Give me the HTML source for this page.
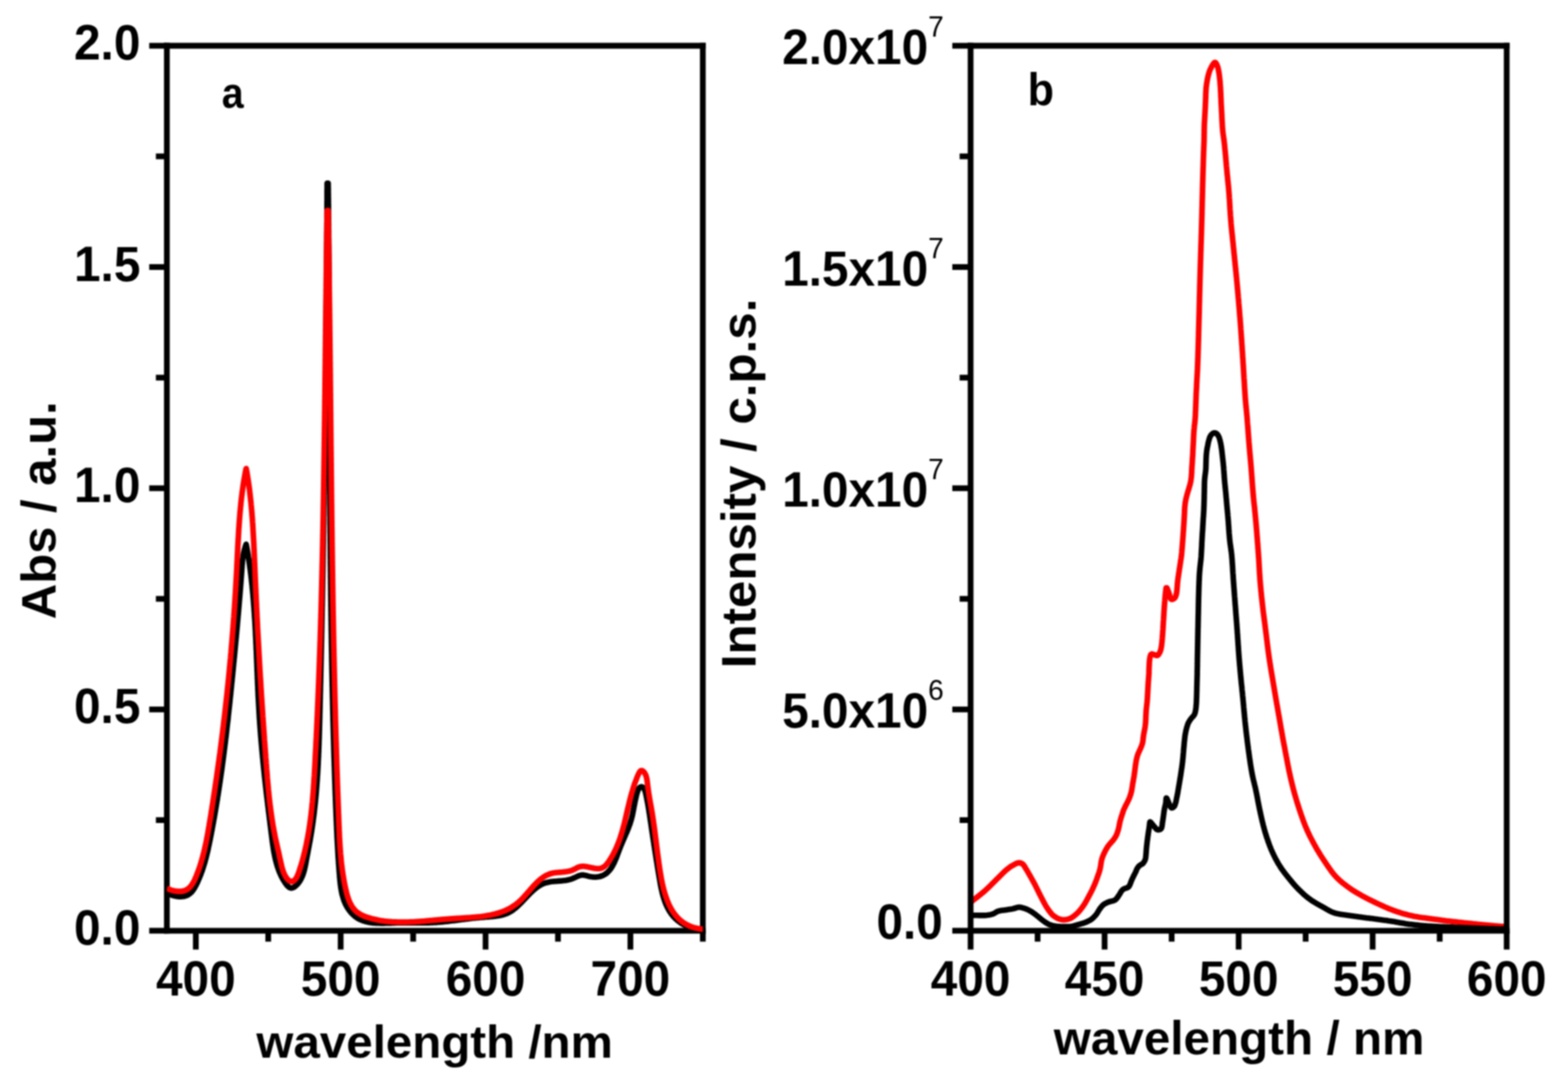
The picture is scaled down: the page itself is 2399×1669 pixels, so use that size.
<!DOCTYPE html>
<html lang="en"><head><meta charset="utf-8"><title>Absorption and emission spectra</title>
<style>
html,body{margin:0;padding:0;background:#fff;}
body{width:2399px;height:1669px;overflow:hidden;}
svg{display:block;filter:blur(1.0px);}
text{font-family:"Liberation Sans",sans-serif;font-weight:bold;fill:#000;}
.sup{font-weight:normal;}
.ax{stroke:#000;fill:none;stroke-linecap:butt;}
.cv{fill:none;stroke-linejoin:round;stroke-linecap:butt;}
</style></head><body>
<svg width="2399" height="1669" viewBox="0 0 2399 1669">
<rect x="0" y="0" width="2399" height="1669" fill="#fff"/>
<g id="panel-a">
<g class="ax" stroke-width="8.8">
<path d="M255.3,65.6 V1428.2"/>
<path d="M1075.3,65.6 V1428.2"/>
<path d="M250.9,70.0 H1079.7"/>
<path d="M250.9,1423.8 H1079.7"/>
<path d="M228.3,1423.8 H255.3"/>
<path d="M238.5,1254.6 H255.3"/>
<path d="M228.3,1085.3 H255.3"/>
<path d="M238.5,916.1 H255.3"/>
<path d="M228.3,746.9 H255.3"/>
<path d="M238.5,577.7 H255.3"/>
<path d="M228.3,408.5 H255.3"/>
<path d="M238.5,239.2 H255.3"/>
<path d="M228.3,70.0 H255.3"/>
<path d="M299.6,1423.8 V1452.6"/>
<path d="M410.4,1423.8 V1440.5"/>
<path d="M521.2,1423.8 V1452.6"/>
<path d="M632.1,1423.8 V1440.5"/>
<path d="M742.9,1423.8 V1452.6"/>
<path d="M853.7,1423.8 V1440.5"/>
<path d="M964.5,1423.8 V1452.6"/>
<path d="M1075.3,1423.8 V1440.5"/>
</g>
<clipPath id="clipA"><rect x="255.3" y="70.0" width="820.0" height="1356.3"/></clipPath>
<g clip-path="url(#clipA)">
<path class="cv" d="M255.3,1365.8 L256.8,1366.7 L258.4,1367.5 L260.1,1368.3 L261.8,1369.0 L263.5,1369.6 L265.2,1370.1 L266.9,1370.5 L268.7,1370.9 L270.5,1371.2 L272.3,1371.5 L274.1,1371.6 L275.9,1371.6 L277.7,1371.6 L279.5,1371.4 L281.3,1371.2 L283.1,1370.8 L284.8,1370.2 L286.5,1369.6 L288.1,1368.7 L289.6,1367.7 L291.0,1366.6 L292.3,1365.4 L293.6,1364.1 L294.7,1362.7 L295.8,1361.2 L296.8,1359.7 L297.7,1358.2 L298.6,1356.6 L299.5,1355.0 L300.3,1353.4 L301.1,1351.8 L301.9,1350.1 L302.7,1348.5 L303.4,1346.9 L304.1,1345.2 L304.8,1343.5 L305.5,1341.9 L306.2,1340.2 L306.9,1338.5 L307.5,1336.8 L308.1,1335.1 L308.8,1333.4 L309.4,1331.7 L309.9,1330.0 L310.5,1328.3 L311.1,1326.6 L311.6,1324.9 L312.1,1323.1 L312.7,1321.4 L313.2,1319.7 L313.7,1317.9 L314.1,1316.2 L314.6,1314.4 L315.1,1312.7 L315.5,1310.9 L316.0,1309.2 L316.4,1307.4 L316.8,1305.7 L317.3,1303.9 L317.7,1302.1 L318.1,1300.4 L318.5,1298.6 L318.8,1296.9 L319.2,1295.1 L319.6,1293.3 L320.0,1291.5 L320.3,1289.8 L320.7,1288.0 L321.1,1286.2 L321.4,1284.5 L321.8,1282.7 L322.1,1280.9 L322.5,1279.1 L322.8,1277.4 L323.2,1275.6 L323.5,1273.8 L323.8,1272.0 L324.2,1270.3 L324.5,1268.5 L324.8,1266.7 L325.2,1264.9 L325.5,1263.1 L325.8,1261.4 L326.2,1259.6 L326.5,1257.8 L326.8,1256.0 L327.1,1254.3 L327.4,1252.5 L327.8,1250.7 L328.1,1248.9 L328.4,1247.1 L328.7,1245.4 L329.0,1243.6 L329.3,1241.8 L329.6,1240.0 L329.9,1238.2 L330.2,1236.4 L330.5,1234.7 L330.8,1232.9 L331.1,1231.1 L331.4,1229.3 L331.7,1227.5 L332.0,1225.7 L332.3,1224.0 L332.6,1222.2 L332.8,1220.4 L333.1,1218.6 L333.4,1216.8 L333.7,1215.0 L334.0,1213.2 L334.2,1211.4 L334.5,1209.7 L334.8,1207.9 L335.1,1206.1 L335.3,1204.3 L335.6,1202.5 L335.9,1200.7 L336.1,1198.9 L336.4,1197.1 L336.7,1195.4 L336.9,1193.6 L337.2,1191.8 L337.4,1190.0 L337.7,1188.2 L338.0,1186.4 L338.2,1184.6 L338.5,1182.8 L338.7,1181.0 L339.0,1179.2 L339.2,1177.5 L339.5,1175.7 L339.7,1173.9 L340.0,1172.1 L340.2,1170.3 L340.4,1168.5 L340.7,1166.7 L340.9,1164.9 L341.2,1163.1 L341.4,1161.3 L341.6,1159.5 L341.9,1157.7 L342.1,1156.0 L342.3,1154.2 L342.6,1152.4 L342.8,1150.6 L343.0,1148.8 L343.2,1147.0 L343.5,1145.2 L343.7,1143.4 L343.9,1141.6 L344.1,1139.8 L344.4,1138.0 L344.6,1136.2 L344.8,1134.4 L345.0,1132.6 L345.2,1130.8 L345.4,1129.0 L345.7,1127.2 L345.9,1125.4 L346.1,1123.6 L346.3,1121.9 L346.5,1120.1 L346.7,1118.3 L346.9,1116.5 L347.1,1114.7 L347.3,1112.9 L347.5,1111.1 L347.7,1109.3 L347.9,1107.5 L348.1,1105.7 L348.4,1103.9 L348.6,1102.1 L348.8,1100.3 L349.0,1098.5 L349.1,1096.7 L349.3,1094.9 L349.5,1093.1 L349.7,1091.3 L349.9,1089.5 L350.1,1087.7 L350.3,1085.9 L350.5,1084.1 L350.7,1082.3 L350.9,1080.5 L351.1,1078.7 L351.3,1076.9 L351.5,1075.1 L351.7,1073.3 L351.8,1071.5 L352.0,1069.7 L352.2,1067.9 L352.4,1066.1 L352.6,1064.3 L352.8,1062.5 L353.0,1060.7 L353.1,1058.9 L353.3,1057.1 L353.5,1055.3 L353.7,1053.5 L353.9,1051.7 L354.1,1049.9 L354.2,1048.1 L354.4,1046.3 L354.6,1044.6 L354.8,1042.8 L355.0,1041.0 L355.1,1039.2 L355.3,1037.4 L355.5,1035.6 L355.7,1033.8 L355.9,1032.0 L356.0,1030.2 L356.2,1028.4 L356.4,1026.6 L356.6,1024.8 L356.7,1023.0 L356.9,1021.2 L357.1,1019.4 L357.3,1017.6 L357.4,1015.8 L357.6,1014.0 L357.8,1012.2 L358.0,1010.4 L358.1,1008.6 L358.3,1006.8 L358.5,1005.0 L358.7,1003.2 L358.8,1001.4 L359.0,999.6 L359.2,997.8 L359.3,996.0 L359.5,994.2 L359.7,992.4 L359.9,990.6 L360.0,988.8 L360.2,987.0 L360.4,985.2 L360.5,983.4 L360.7,981.6 L360.9,979.8 L361.0,978.0 L361.2,976.2 L361.4,974.4 L361.5,972.6 L361.7,970.8 L361.9,969.0 L362.0,967.2 L362.2,965.4 L362.4,963.6 L362.5,961.8 L362.7,960.0 L362.9,958.2 L363.0,956.4 L363.2,954.6 L363.3,952.8 L363.5,950.9 L363.7,949.1 L363.8,947.3 L364.0,945.5 L364.1,943.7 L364.3,941.9 L364.5,940.1 L364.6,938.3 L364.8,936.5 L364.9,934.7 L365.1,932.9 L365.2,931.1 L365.4,929.3 L365.5,927.5 L365.7,925.7 L365.8,923.9 L366.0,922.1 L366.1,920.3 L366.3,918.5 L366.4,916.7 L366.6,914.9 L366.7,913.1 L366.9,911.3 L367.0,909.5 L367.2,907.7 L367.3,905.9 L367.5,904.1 L367.6,902.3 L367.8,900.5 L367.9,898.7 L368.0,896.9 L368.2,895.1 L368.3,893.3 L368.5,891.5 L368.6,889.7 L368.7,887.9 L368.9,886.1 L369.0,884.3 L369.1,882.5 L369.3,880.7 L369.4,878.9 L369.5,877.1 L369.7,875.3 L369.8,873.5 L369.9,871.7 L370.0,869.8 L370.2,868.0 L370.3,866.2 L370.4,864.4 L370.6,862.6 L370.8,860.8 L370.9,859.0 L371.1,857.2 L371.3,855.4 L371.6,853.6 L371.8,851.9 L372.1,850.1 L372.4,848.3 L372.7,846.5 L373.1,844.7 L373.5,843.0 L373.9,841.2 L374.4,839.5 L374.9,837.7 L375.4,836.0 L376.0,834.3 L376.6,832.6 L377.0,834.4 L377.3,836.1 L377.6,837.9 L378.0,839.7 L378.3,841.5 L378.6,843.2 L378.9,845.0 L379.2,846.8 L379.5,848.6 L379.8,850.4 L380.0,852.1 L380.3,853.9 L380.6,855.7 L380.9,857.5 L381.1,859.3 L381.4,861.1 L381.6,862.8 L381.9,864.6 L382.1,866.4 L382.4,868.2 L382.6,870.0 L382.9,871.8 L383.1,873.6 L383.3,875.3 L383.5,877.1 L383.8,878.9 L384.0,880.7 L384.2,882.5 L384.4,884.3 L384.6,886.1 L384.8,887.9 L385.0,889.7 L385.2,891.5 L385.4,893.3 L385.6,895.1 L385.8,896.8 L385.9,898.6 L386.1,900.4 L386.3,902.2 L386.5,904.0 L386.6,905.8 L386.8,907.6 L387.0,909.4 L387.1,911.2 L387.3,913.0 L387.4,914.8 L387.6,916.6 L387.7,918.4 L387.9,920.2 L388.0,922.0 L388.1,923.8 L388.3,925.6 L388.4,927.4 L388.6,929.2 L388.7,931.0 L388.8,932.8 L388.9,934.6 L389.1,936.4 L389.2,938.2 L389.3,940.0 L389.4,941.8 L389.5,943.6 L389.6,945.4 L389.8,947.2 L389.9,949.0 L390.0,950.8 L390.1,952.6 L390.2,954.4 L390.3,956.2 L390.4,958.0 L390.5,959.8 L390.6,961.6 L390.7,963.4 L390.8,965.2 L390.9,967.0 L390.9,968.8 L391.0,970.6 L391.1,972.4 L391.2,974.2 L391.3,976.0 L391.4,977.8 L391.5,979.6 L391.5,981.4 L391.6,983.2 L391.7,985.0 L391.8,986.8 L391.9,988.6 L391.9,990.4 L392.0,992.2 L392.1,994.0 L392.2,995.8 L392.3,997.6 L392.3,999.4 L392.4,1001.2 L392.5,1003.0 L392.5,1004.8 L392.6,1006.6 L392.7,1008.4 L392.8,1010.2 L392.8,1012.0 L392.9,1013.8 L393.0,1015.6 L393.1,1017.4 L393.1,1019.2 L393.2,1021.0 L393.3,1022.8 L393.3,1024.6 L393.4,1026.4 L393.5,1028.2 L393.6,1030.0 L393.6,1031.8 L393.7,1033.6 L393.8,1035.4 L393.8,1037.2 L393.9,1039.0 L394.0,1040.8 L394.1,1042.6 L394.1,1044.4 L394.2,1046.2 L394.3,1048.0 L394.4,1049.8 L394.5,1051.6 L394.5,1053.4 L394.6,1055.2 L394.7,1057.0 L394.8,1058.8 L394.9,1060.6 L394.9,1062.4 L395.0,1064.2 L395.1,1066.0 L395.2,1067.8 L395.3,1069.6 L395.4,1071.4 L395.5,1073.2 L395.6,1075.0 L395.7,1076.8 L395.8,1078.6 L395.9,1080.4 L396.0,1082.2 L396.1,1084.0 L396.2,1085.8 L396.3,1087.6 L396.4,1089.4 L396.5,1091.2 L396.6,1093.0 L396.7,1094.8 L396.8,1096.6 L396.9,1098.4 L397.0,1100.2 L397.2,1102.0 L397.3,1103.8 L397.4,1105.6 L397.5,1107.4 L397.7,1109.2 L397.8,1111.0 L397.9,1112.8 L398.1,1114.6 L398.2,1116.4 L398.3,1118.2 L398.5,1120.0 L398.6,1121.8 L398.7,1123.6 L398.9,1125.4 L399.0,1127.2 L399.2,1129.0 L399.3,1130.8 L399.5,1132.6 L399.6,1134.4 L399.8,1136.2 L399.9,1138.0 L400.1,1139.8 L400.3,1141.6 L400.4,1143.4 L400.6,1145.2 L400.7,1147.0 L400.9,1148.8 L401.1,1150.6 L401.2,1152.4 L401.4,1154.1 L401.6,1155.9 L401.7,1157.7 L401.9,1159.5 L402.1,1161.3 L402.3,1163.1 L402.4,1164.9 L402.6,1166.7 L402.8,1168.5 L403.0,1170.3 L403.1,1172.1 L403.3,1173.9 L403.5,1175.7 L403.7,1177.5 L403.9,1179.3 L404.1,1181.1 L404.3,1182.9 L404.4,1184.6 L404.6,1186.4 L404.8,1188.2 L405.0,1190.0 L405.2,1191.8 L405.4,1193.6 L405.6,1195.4 L405.8,1197.2 L406.0,1199.0 L406.2,1200.8 L406.4,1202.6 L406.6,1204.4 L406.8,1206.1 L407.0,1207.9 L407.2,1209.7 L407.4,1211.5 L407.6,1213.3 L407.8,1215.1 L408.0,1216.9 L408.2,1218.7 L408.5,1220.5 L408.7,1222.3 L408.9,1224.1 L409.1,1225.9 L409.3,1227.6 L409.5,1229.4 L409.7,1231.2 L409.9,1233.0 L410.2,1234.8 L410.4,1236.6 L410.6,1238.4 L410.8,1240.2 L411.0,1242.0 L411.2,1243.8 L411.5,1245.5 L411.7,1247.3 L411.9,1249.1 L412.1,1250.9 L412.3,1252.7 L412.6,1254.5 L412.8,1256.3 L413.0,1258.1 L413.2,1259.9 L413.4,1261.6 L413.7,1263.4 L413.9,1265.2 L414.1,1267.0 L414.3,1268.8 L414.6,1270.6 L414.8,1272.4 L415.0,1274.2 L415.2,1276.0 L415.5,1277.7 L415.7,1279.5 L415.9,1281.3 L416.1,1283.1 L416.4,1284.9 L416.6,1286.7 L416.8,1288.5 L417.1,1290.3 L417.3,1292.0 L417.6,1293.8 L417.9,1295.6 L418.1,1297.4 L418.4,1299.2 L418.7,1301.0 L419.0,1302.7 L419.3,1304.5 L419.7,1306.3 L420.0,1308.0 L420.4,1309.8 L420.7,1311.6 L421.1,1313.3 L421.5,1315.1 L422.0,1316.8 L422.4,1318.6 L422.9,1320.3 L423.4,1322.1 L423.9,1323.8 L424.4,1325.5 L425.0,1327.2 L425.6,1328.9 L426.2,1330.6 L426.8,1332.3 L427.5,1334.0 L428.2,1335.7 L428.9,1337.3 L429.7,1338.9 L430.4,1340.6 L431.3,1342.2 L432.1,1343.8 L433.0,1345.3 L433.9,1346.9 L434.9,1348.4 L435.8,1349.9 L436.9,1351.4 L437.9,1352.9 L439.0,1354.3 L440.2,1355.6 L441.6,1356.8 L443.1,1357.8 L444.8,1358.4 L446.6,1358.4 L448.3,1357.9 L449.9,1357.1 L451.4,1356.1 L452.8,1354.9 L454.1,1353.7 L455.3,1352.4 L456.5,1351.0 L457.6,1349.5 L458.6,1348.1 L459.5,1346.5 L460.4,1345.0 L461.2,1343.3 L462.0,1341.7 L462.7,1340.0 L463.3,1338.4 L463.9,1336.7 L464.5,1334.9 L465.0,1333.2 L465.5,1331.5 L465.9,1329.7 L466.3,1328.0 L466.7,1326.2 L467.1,1324.4 L467.4,1322.7 L467.8,1320.9 L468.1,1319.1 L468.4,1317.4 L468.7,1315.6 L469.1,1313.8 L469.4,1312.0 L469.7,1310.3 L470.1,1308.5 L470.4,1306.7 L470.8,1305.0 L471.1,1303.2 L471.4,1301.4 L471.8,1299.6 L472.1,1297.9 L472.4,1296.1 L472.8,1294.3 L473.1,1292.6 L473.4,1290.8 L473.7,1289.0 L474.1,1287.2 L474.4,1285.5 L474.7,1283.7 L475.0,1281.9 L475.3,1280.1 L475.6,1278.4 L475.9,1276.6 L476.2,1274.8 L476.5,1273.0 L476.8,1271.2 L477.0,1269.5 L477.3,1267.7 L477.6,1265.9 L477.9,1264.1 L478.1,1262.3 L478.4,1260.5 L478.6,1258.8 L478.9,1257.0 L479.1,1255.2 L479.3,1253.4 L479.6,1251.6 L479.8,1249.8 L480.0,1248.0 L480.3,1246.2 L480.5,1244.5 L480.7,1242.7 L480.9,1240.9 L481.1,1239.1 L481.3,1237.3 L481.5,1235.5 L481.7,1233.7 L481.9,1231.9 L482.1,1230.1 L482.3,1228.3 L482.5,1226.5 L482.6,1224.7 L482.8,1222.9 L483.0,1221.2 L483.1,1219.4 L483.3,1217.6 L483.5,1215.8 L483.6,1214.0 L483.8,1212.2 L483.9,1210.4 L484.1,1208.6 L484.2,1206.8 L484.4,1205.0 L484.5,1203.2 L484.6,1201.4 L484.8,1199.6 L484.9,1197.8 L485.0,1196.0 L485.2,1194.2 L485.3,1192.4 L485.4,1190.6 L485.5,1188.8 L485.6,1187.0 L485.8,1185.2 L485.9,1183.4 L486.0,1181.6 L486.1,1179.8 L486.2,1178.0 L486.3,1176.2 L486.4,1174.4 L486.5,1172.6 L486.6,1170.8 L486.7,1169.0 L486.8,1167.2 L486.8,1165.4 L486.9,1163.6 L487.0,1161.8 L487.1,1160.0 L487.2,1158.2 L487.3,1156.4 L487.3,1154.6 L487.4,1152.8 L487.5,1151.0 L487.6,1149.2 L487.6,1147.4 L487.7,1145.6 L487.8,1143.8 L487.8,1142.0 L487.9,1140.2 L488.0,1138.4 L488.0,1136.6 L488.1,1134.8 L488.1,1133.0 L488.2,1131.2 L488.3,1129.4 L488.3,1127.6 L488.4,1125.8 L488.4,1124.0 L488.5,1122.2 L488.5,1120.4 L488.6,1118.6 L488.6,1116.8 L488.7,1115.0 L488.7,1113.1 L488.8,1111.3 L488.8,1109.5 L488.9,1107.7 L488.9,1105.9 L489.0,1104.1 L489.0,1102.3 L489.1,1100.5 L489.1,1098.7 L489.2,1096.9 L489.2,1095.1 L489.2,1093.3 L489.3,1091.5 L489.3,1089.7 L489.4,1087.9 L489.4,1086.1 L489.5,1084.3 L489.5,1082.5 L489.6,1080.7 L489.6,1078.9 L489.6,1077.1 L489.7,1075.3 L489.7,1073.5 L489.8,1071.7 L489.8,1069.9 L489.9,1068.1 L489.9,1066.3 L489.9,1064.5 L490.0,1062.7 L490.0,1060.9 L490.1,1059.1 L490.1,1057.3 L490.2,1055.5 L490.2,1053.7 L490.2,1051.9 L490.3,1050.1 L490.3,1048.3 L490.4,1046.5 L490.4,1044.7 L490.5,1042.9 L490.5,1041.1 L490.5,1039.3 L490.6,1037.4 L490.6,1035.6 L490.7,1033.8 L490.7,1032.0 L490.7,1030.2 L490.8,1028.4 L490.8,1026.6 L490.9,1024.8 L490.9,1023.0 L490.9,1021.2 L491.0,1019.4 L491.0,1017.6 L491.1,1015.8 L491.1,1014.0 L491.1,1012.2 L491.2,1010.4 L491.2,1008.6 L491.3,1006.8 L491.3,1005.0 L491.3,1003.2 L491.4,1001.4 L491.4,999.6 L491.5,997.8 L491.5,996.0 L491.5,994.2 L491.6,992.4 L491.6,990.6 L491.7,988.8 L491.7,987.0 L491.7,985.2 L491.8,983.4 L491.8,981.6 L491.9,979.8 L491.9,978.0 L491.9,976.2 L492.0,974.4 L492.0,972.6 L492.0,970.8 L492.1,969.0 L492.1,967.2 L492.2,965.3 L492.2,963.5 L492.2,961.7 L492.3,959.9 L492.3,958.1 L492.3,956.3 L492.4,954.5 L492.4,952.7 L492.4,950.9 L492.5,949.1 L492.5,947.3 L492.6,945.5 L492.6,943.7 L492.6,941.9 L492.7,940.1 L492.7,938.3 L492.7,936.5 L492.8,934.7 L492.8,932.9 L492.8,931.1 L492.9,929.3 L492.9,927.5 L493.0,925.7 L493.0,923.9 L493.0,922.1 L493.1,920.3 L493.1,918.5 L493.1,916.7 L493.2,914.9 L493.2,913.1 L493.2,911.3 L493.3,909.5 L493.3,907.7 L493.3,905.9 L493.4,904.1 L493.4,902.3 L493.4,900.5 L493.5,898.7 L493.5,896.9 L493.5,895.0 L493.6,893.2 L493.6,891.4 L493.6,889.6 L493.7,887.8 L493.7,886.0 L493.7,884.2 L493.8,882.4 L493.8,880.6 L493.8,878.8 L493.9,877.0 L493.9,875.2 L493.9,873.4 L494.0,871.6 L494.0,869.8 L494.0,868.0 L494.1,866.2 L494.1,864.4 L494.1,862.6 L494.2,860.8 L494.2,859.0 L494.2,857.2 L494.3,855.4 L494.3,853.6 L494.3,851.8 L494.4,850.0 L494.4,848.2 L494.4,846.4 L494.4,844.6 L494.5,842.8 L494.5,841.0 L494.5,839.2 L494.6,837.4 L494.6,835.6 L494.6,833.8 L494.7,832.0 L494.7,830.2 L494.7,828.4 L494.8,826.5 L494.8,824.7 L494.8,822.9 L494.8,821.1 L494.9,819.3 L494.9,817.5 L494.9,815.7 L495.0,813.9 L495.0,812.1 L495.0,810.3 L495.0,808.5 L495.1,806.7 L495.1,804.9 L495.1,803.1 L495.2,801.3 L495.2,799.5 L495.2,797.7 L495.3,795.9 L495.3,794.1 L495.3,792.3 L495.3,790.5 L495.4,788.7 L495.4,786.9 L495.4,785.1 L495.5,783.3 L495.5,781.5 L495.5,779.7 L495.5,777.9 L495.6,776.1 L495.6,774.3 L495.6,772.5 L495.6,770.7 L495.7,768.9 L495.7,767.1 L495.7,765.3 L495.8,763.5 L495.8,761.7 L495.8,759.8 L495.8,758.0 L495.9,756.2 L495.9,754.4 L495.9,752.6 L495.9,750.8 L496.0,749.0 L496.0,747.2 L496.0,745.4 L496.1,743.6 L496.1,741.8 L496.1,740.0 L496.1,738.2 L496.2,736.4 L496.2,734.6 L496.2,732.8 L496.2,731.0 L496.3,729.2 L496.3,727.4 L496.3,725.6 L496.3,723.8 L496.4,722.0 L496.4,720.2 L496.4,718.4 L496.4,716.6 L496.5,714.8 L496.5,713.0 L496.5,711.2 L496.5,709.4 L496.6,707.6 L496.6,705.8 L496.6,704.0 L496.6,702.2 L496.7,700.4 L496.7,698.6 L496.7,696.8 L496.7,695.0 L496.8,693.1 L496.8,691.3 L496.8,689.5 L496.8,687.7 L496.9,685.9 L496.9,684.1 L496.9,682.3 L496.9,680.5 L496.9,678.7 L497.0,676.9 L497.0,675.1 L497.0,673.3 L497.0,671.5 L497.1,669.7 L497.1,667.9 L497.1,666.1 L497.1,664.3 L497.2,662.5 L497.2,660.7 L497.2,658.9 L497.2,657.1 L497.2,655.3 L497.3,653.5 L497.3,651.7 L497.3,649.9 L497.3,648.1 L497.4,646.3 L497.4,644.5 L497.4,642.7 L497.4,640.9 L497.4,639.1 L497.5,637.3 L497.5,635.5 L497.5,633.7 L497.5,631.9 L497.6,630.1 L497.6,628.2 L497.6,626.4 L497.6,624.6 L497.6,622.8 L497.7,621.0 L497.7,619.2 L497.7,617.4 L497.7,615.6 L497.7,613.8 L497.8,612.0 L497.8,610.2 L497.8,608.4 L497.8,606.6 L497.8,604.8 L497.9,603.0 L497.9,601.2 L497.9,599.4 L497.9,597.6 L497.9,595.8 L498.0,594.0 L498.0,592.2 L498.0,590.4 L498.0,588.6 L498.0,586.8 L498.1,585.0 L498.1,583.2 L498.1,581.4 L498.1,579.6 L498.1,577.8 L498.2,576.0 L498.2,574.2 L498.2,572.4 L498.2,570.6 L498.2,568.8 L498.3,567.0 L498.3,565.1 L498.3,563.3 L498.3,561.5 L498.3,559.7 L498.4,557.9 L498.4,556.1 L498.4,554.3 L498.4,552.5 L498.4,550.7 L498.4,548.9 L498.5,547.1 L498.5,545.3 L498.5,543.5 L498.5,541.7 L498.5,539.9 L498.6,538.1 L498.6,536.3 L498.6,534.5 L498.6,532.7 L498.6,530.9 L498.6,529.1 L498.7,527.3 L498.7,525.5 L498.7,523.7 L498.7,521.9 L498.7,520.1 L498.7,518.3 L498.8,516.5 L498.8,514.7 L498.8,512.9 L498.8,511.1 L498.8,509.3 L498.9,507.5 L498.9,505.7 L498.9,503.9 L498.9,502.1 L498.9,500.2 L498.9,498.4 L498.9,496.6 L499.0,494.8 L499.0,493.0 L499.0,491.2 L499.0,489.4 L499.0,487.6 L499.0,485.8 L499.1,484.0 L499.1,482.2 L499.1,480.4 L499.1,478.6 L499.1,476.8 L499.1,475.0 L499.2,473.2 L499.2,471.4 L499.2,469.6 L499.2,467.8 L499.2,466.0 L499.2,464.2 L499.3,462.4 L499.3,460.6 L499.3,458.8 L499.3,457.0 L499.3,455.2 L499.3,453.4 L499.3,451.6 L499.4,449.8 L499.4,448.0 L499.4,446.2 L499.4,444.4 L499.4,442.6 L499.4,440.8 L499.4,439.0 L499.5,437.1 L499.5,435.3 L499.5,433.5 L499.5,431.7 L499.5,429.9 L499.5,428.1 L499.5,426.3 L499.6,424.5 L499.6,422.7 L499.6,420.9 L499.6,419.1 L499.6,417.3 L499.6,415.5 L499.6,413.7 L499.7,411.9 L499.7,410.1 L499.7,408.3 L499.7,406.5 L499.7,404.7 L499.7,402.9 L499.7,401.1 L499.7,399.3 L499.8,397.5 L499.8,395.7 L499.8,393.9 L499.8,392.1 L499.8,390.3 L499.8,388.5 L499.8,386.7 L499.9,384.9 L499.9,383.1 L499.9,381.3 L499.9,379.5 L499.9,377.7 L499.9,375.8 L499.9,374.0 L499.9,372.2 L500.0,370.4 L500.0,368.6 L500.0,366.8 L500.0,365.0 L500.0,363.2 L500.0,361.4 L500.0,359.6 L500.0,357.8 L500.0,356.0 L500.1,354.2 L500.1,352.4 L500.1,350.6 L500.1,348.8 L500.1,347.0 L500.1,345.2 L500.1,343.4 L500.1,341.6 L500.2,339.8 L500.2,338.0 L500.2,336.2 L500.2,334.4 L500.2,332.6 L500.2,330.8 L500.2,329.0 L500.2,327.2 L500.2,325.4 L500.3,323.6 L500.3,321.8 L500.3,320.0 L500.3,318.2 L500.3,316.4 L500.3,314.6 L500.3,312.7 L500.3,310.9 L500.3,309.1 L500.4,307.3 L500.4,305.5 L500.4,303.7 L500.4,301.9 L500.4,300.1 L500.4,298.3 L500.4,296.5 L500.4,294.7 L500.4,292.9 L500.4,291.1 L500.5,289.3 L500.5,287.5 L500.5,285.7 L500.5,283.9 L500.5,282.1 L500.5,280.3 L502.1,280.3 L502.1,282.1 L502.1,283.9 L502.1,285.7 L502.2,287.5 L502.2,289.3 L502.2,291.1 L502.2,292.9 L502.2,294.7 L502.3,296.5 L502.3,298.3 L502.3,300.1 L502.3,301.9 L502.4,303.7 L502.4,305.5 L502.4,307.3 L502.4,309.1 L502.4,310.9 L502.5,312.7 L502.5,314.5 L502.5,316.3 L502.5,318.1 L502.5,319.9 L502.6,321.7 L502.6,323.6 L502.6,325.4 L502.6,327.2 L502.6,329.0 L502.6,330.8 L502.7,332.6 L502.7,334.4 L502.7,336.2 L502.7,338.0 L502.7,339.8 L502.8,341.6 L502.8,343.4 L502.8,345.2 L502.8,347.0 L502.8,348.8 L502.8,350.6 L502.9,352.4 L502.9,354.2 L502.9,356.0 L502.9,357.8 L502.9,359.6 L502.9,361.4 L502.9,363.2 L503.0,365.0 L503.0,366.8 L503.0,368.6 L503.0,370.4 L503.0,372.2 L503.0,374.0 L503.1,375.8 L503.1,377.6 L503.1,379.4 L503.1,381.2 L503.1,383.0 L503.1,384.8 L503.1,386.6 L503.2,388.4 L503.2,390.2 L503.2,392.0 L503.2,393.8 L503.2,395.6 L503.2,397.4 L503.2,399.2 L503.2,401.0 L503.3,402.8 L503.3,404.6 L503.3,406.4 L503.3,408.2 L503.3,410.0 L503.3,411.9 L503.3,413.7 L503.3,415.5 L503.4,417.3 L503.4,419.1 L503.4,420.9 L503.4,422.7 L503.4,424.5 L503.4,426.3 L503.4,428.1 L503.4,429.9 L503.4,431.7 L503.5,433.5 L503.5,435.3 L503.5,437.1 L503.5,438.9 L503.5,440.7 L503.5,442.5 L503.5,444.3 L503.5,446.1 L503.5,447.9 L503.6,449.7 L503.6,451.5 L503.6,453.3 L503.6,455.1 L503.6,456.9 L503.6,458.7 L503.6,460.5 L503.6,462.3 L503.6,464.1 L503.6,465.9 L503.7,467.7 L503.7,469.5 L503.7,471.3 L503.7,473.1 L503.7,474.9 L503.7,476.7 L503.7,478.5 L503.7,480.3 L503.7,482.1 L503.7,483.9 L503.7,485.7 L503.7,487.5 L503.8,489.3 L503.8,491.1 L503.8,492.9 L503.8,494.7 L503.8,496.5 L503.8,498.4 L503.8,500.2 L503.8,502.0 L503.8,503.8 L503.8,505.6 L503.8,507.4 L503.8,509.2 L503.9,511.0 L503.9,512.8 L503.9,514.6 L503.9,516.4 L503.9,518.2 L503.9,520.0 L503.9,521.8 L503.9,523.6 L503.9,525.4 L503.9,527.2 L503.9,529.0 L503.9,530.8 L503.9,532.6 L504.0,534.4 L504.0,536.2 L504.0,538.0 L504.0,539.8 L504.0,541.6 L504.0,543.4 L504.0,545.2 L504.0,547.0 L504.0,548.8 L504.0,550.6 L504.0,552.4 L504.0,554.2 L504.0,556.0 L504.0,557.8 L504.0,559.6 L504.1,561.4 L504.1,563.2 L504.1,565.0 L504.1,566.8 L504.1,568.6 L504.1,570.4 L504.1,572.2 L504.1,574.0 L504.1,575.8 L504.1,577.6 L504.1,579.4 L504.1,581.2 L504.1,583.0 L504.1,584.8 L504.1,586.7 L504.2,588.5 L504.2,590.3 L504.2,592.1 L504.2,593.9 L504.2,595.7 L504.2,597.5 L504.2,599.3 L504.2,601.1 L504.2,602.9 L504.2,604.7 L504.2,606.5 L504.2,608.3 L504.2,610.1 L504.2,611.9 L504.2,613.7 L504.2,615.5 L504.3,617.3 L504.3,619.1 L504.3,620.9 L504.3,622.7 L504.3,624.5 L504.3,626.3 L504.3,628.1 L504.3,629.9 L504.3,631.7 L504.3,633.5 L504.3,635.3 L504.3,637.1 L504.3,638.9 L504.3,640.7 L504.3,642.5 L504.4,644.3 L504.4,646.1 L504.4,647.9 L504.4,649.7 L504.4,651.5 L504.4,653.3 L504.4,655.1 L504.4,656.9 L504.4,658.7 L504.4,660.5 L504.4,662.3 L504.4,664.1 L504.4,665.9 L504.4,667.7 L504.4,669.5 L504.5,671.3 L504.5,673.2 L504.5,675.0 L504.5,676.8 L504.5,678.6 L504.5,680.4 L504.5,682.2 L504.5,684.0 L504.5,685.8 L504.5,687.6 L504.5,689.4 L504.5,691.2 L504.5,693.0 L504.6,694.8 L504.6,696.6 L504.6,698.4 L504.6,700.2 L504.6,702.0 L504.6,703.8 L504.6,705.6 L504.6,707.4 L504.6,709.2 L504.6,711.0 L504.6,712.8 L504.6,714.6 L504.6,716.4 L504.7,718.2 L504.7,720.0 L504.7,721.8 L504.7,723.6 L504.7,725.4 L504.7,727.2 L504.7,729.0 L504.7,730.8 L504.7,732.6 L504.7,734.4 L504.7,736.2 L504.8,738.0 L504.8,739.8 L504.8,741.6 L504.8,743.4 L504.8,745.2 L504.8,747.0 L504.8,748.8 L504.8,750.6 L504.8,752.4 L504.8,754.2 L504.9,756.0 L504.9,757.8 L504.9,759.7 L504.9,761.5 L504.9,763.3 L504.9,765.1 L504.9,766.9 L504.9,768.7 L504.9,770.5 L504.9,772.3 L505.0,774.1 L505.0,775.9 L505.0,777.7 L505.0,779.5 L505.0,781.3 L505.0,783.1 L505.0,784.9 L505.0,786.7 L505.0,788.5 L505.1,790.3 L505.1,792.1 L505.1,793.9 L505.1,795.7 L505.1,797.5 L505.1,799.3 L505.1,801.1 L505.1,802.9 L505.2,804.7 L505.2,806.5 L505.2,808.3 L505.2,810.1 L505.2,811.9 L505.2,813.7 L505.2,815.5 L505.3,817.3 L505.3,819.1 L505.3,820.9 L505.3,822.7 L505.3,824.5 L505.3,826.3 L505.3,828.1 L505.3,829.9 L505.4,831.7 L505.4,833.5 L505.4,835.3 L505.4,837.1 L505.4,838.9 L505.4,840.7 L505.5,842.5 L505.5,844.3 L505.5,846.1 L505.5,848.0 L505.5,849.8 L505.5,851.6 L505.5,853.4 L505.6,855.2 L505.6,857.0 L505.6,858.8 L505.6,860.6 L505.6,862.4 L505.6,864.2 L505.7,866.0 L505.7,867.8 L505.7,869.6 L505.7,871.4 L505.7,873.2 L505.8,875.0 L505.8,876.8 L505.8,878.6 L505.8,880.4 L505.8,882.2 L505.8,884.0 L505.9,885.8 L505.9,887.6 L505.9,889.4 L505.9,891.2 L505.9,893.0 L506.0,894.8 L506.0,896.6 L506.0,898.4 L506.0,900.2 L506.0,902.0 L506.1,903.8 L506.1,905.6 L506.1,907.4 L506.1,909.2 L506.1,911.0 L506.2,912.8 L506.2,914.6 L506.2,916.4 L506.2,918.2 L506.3,920.0 L506.3,921.8 L506.3,923.6 L506.3,925.4 L506.3,927.2 L506.4,929.0 L506.4,930.8 L506.4,932.6 L506.4,934.4 L506.5,936.2 L506.5,938.1 L506.5,939.9 L506.5,941.7 L506.6,943.5 L506.6,945.3 L506.6,947.1 L506.6,948.9 L506.7,950.7 L506.7,952.5 L506.7,954.3 L506.7,956.1 L506.8,957.9 L506.8,959.7 L506.8,961.5 L506.8,963.3 L506.9,965.1 L506.9,966.9 L506.9,968.7 L507.0,970.5 L507.0,972.3 L507.0,974.1 L507.0,975.9 L507.1,977.7 L507.1,979.5 L507.1,981.3 L507.1,983.1 L507.2,984.9 L507.2,986.7 L507.2,988.5 L507.3,990.3 L507.3,992.1 L507.3,993.9 L507.4,995.7 L507.4,997.5 L507.4,999.3 L507.5,1001.1 L507.5,1002.9 L507.5,1004.7 L507.5,1006.5 L507.6,1008.3 L507.6,1010.1 L507.6,1011.9 L507.7,1013.7 L507.7,1015.5 L507.7,1017.3 L507.8,1019.1 L507.8,1020.9 L507.8,1022.7 L507.9,1024.5 L507.9,1026.3 L507.9,1028.1 L508.0,1029.9 L508.0,1031.7 L508.1,1033.5 L508.1,1035.4 L508.1,1037.2 L508.2,1039.0 L508.2,1040.8 L508.2,1042.6 L508.3,1044.4 L508.3,1046.2 L508.3,1048.0 L508.4,1049.8 L508.4,1051.6 L508.5,1053.4 L508.5,1055.2 L508.5,1057.0 L508.6,1058.8 L508.6,1060.6 L508.7,1062.4 L508.7,1064.2 L508.7,1066.0 L508.8,1067.8 L508.8,1069.6 L508.9,1071.4 L508.9,1073.2 L508.9,1075.0 L509.0,1076.8 L509.0,1078.6 L509.1,1080.4 L509.1,1082.2 L509.1,1084.0 L509.2,1085.8 L509.2,1087.6 L509.3,1089.4 L509.3,1091.2 L509.4,1093.0 L509.4,1094.8 L509.5,1096.6 L509.5,1098.4 L509.5,1100.2 L509.6,1102.0 L509.6,1103.8 L509.7,1105.6 L509.7,1107.4 L509.8,1109.2 L509.8,1111.0 L509.9,1112.8 L509.9,1114.6 L510.0,1116.4 L510.0,1118.2 L510.1,1120.0 L510.1,1121.8 L510.2,1123.6 L510.2,1125.4 L510.3,1127.2 L510.3,1129.0 L510.4,1130.8 L510.4,1132.6 L510.5,1134.4 L510.5,1136.2 L510.6,1138.0 L510.6,1139.8 L510.7,1141.6 L510.7,1143.4 L510.8,1145.2 L510.8,1147.0 L510.9,1148.8 L510.9,1150.6 L511.0,1152.4 L511.0,1154.3 L511.1,1156.1 L511.1,1157.9 L511.2,1159.7 L511.3,1161.5 L511.3,1163.3 L511.4,1165.1 L511.4,1166.9 L511.5,1168.7 L511.5,1170.5 L511.6,1172.3 L511.7,1174.1 L511.7,1175.9 L511.8,1177.7 L511.8,1179.5 L511.9,1181.3 L511.9,1183.1 L512.0,1184.9 L512.1,1186.7 L512.1,1188.5 L512.2,1190.3 L512.2,1192.1 L512.3,1193.9 L512.4,1195.7 L512.4,1197.5 L512.5,1199.3 L512.6,1201.1 L512.6,1202.9 L512.7,1204.7 L512.7,1206.5 L512.8,1208.3 L512.9,1210.1 L512.9,1211.9 L513.0,1213.7 L513.1,1215.5 L513.1,1217.3 L513.2,1219.1 L513.3,1220.9 L513.3,1222.7 L513.4,1224.5 L513.5,1226.3 L513.5,1228.1 L513.6,1229.9 L513.7,1231.7 L513.7,1233.5 L513.8,1235.3 L513.9,1237.1 L514.0,1238.9 L514.0,1240.7 L514.1,1242.5 L514.2,1244.3 L514.2,1246.1 L514.3,1247.9 L514.4,1249.7 L514.5,1251.5 L514.5,1253.3 L514.6,1255.1 L514.7,1256.9 L514.8,1258.7 L514.8,1260.5 L514.9,1262.3 L515.0,1264.1 L515.1,1265.9 L515.1,1267.7 L515.2,1269.5 L515.3,1271.3 L515.4,1273.1 L515.5,1274.9 L515.6,1276.7 L515.6,1278.5 L515.7,1280.3 L515.8,1282.1 L515.9,1283.9 L516.0,1285.7 L516.1,1287.5 L516.2,1289.3 L516.3,1291.1 L516.4,1292.9 L516.5,1294.7 L516.6,1296.5 L516.7,1298.3 L516.8,1300.1 L516.9,1301.9 L517.0,1303.7 L517.1,1305.5 L517.2,1307.3 L517.3,1309.1 L517.4,1310.9 L517.5,1312.7 L517.7,1314.5 L517.8,1316.3 L517.9,1318.1 L518.0,1319.9 L518.1,1321.7 L518.3,1323.5 L518.4,1325.3 L518.5,1327.1 L518.7,1328.9 L518.8,1330.7 L518.9,1332.5 L519.1,1334.3 L519.2,1336.1 L519.4,1337.9 L519.5,1339.7 L519.6,1341.5 L519.8,1343.2 L520.0,1345.0 L520.1,1346.8 L520.3,1348.6 L520.5,1350.4 L520.7,1352.2 L520.9,1354.0 L521.2,1355.8 L521.4,1357.6 L521.7,1359.4 L522.0,1361.1 L522.3,1362.9 L522.7,1364.7 L523.0,1366.4 L523.4,1368.2 L523.9,1369.9 L524.4,1371.7 L524.9,1373.4 L525.4,1375.1 L526.0,1376.8 L526.6,1378.5 L527.3,1380.2 L528.0,1381.8 L528.8,1383.5 L529.6,1385.1 L530.5,1386.7 L531.4,1388.2 L532.3,1389.7 L533.3,1391.2 L534.4,1392.7 L535.5,1394.1 L536.6,1395.5 L537.8,1396.9 L539.0,1398.2 L540.3,1399.4 L541.7,1400.7 L543.1,1401.8 L544.5,1402.9 L546.0,1403.9 L547.5,1404.9 L549.1,1405.8 L550.7,1406.6 L552.3,1407.3 L554.0,1408.0 L555.7,1408.6 L557.4,1409.2 L559.1,1409.7 L560.9,1410.1 L562.6,1410.5 L564.4,1410.9 L566.2,1411.2 L567.9,1411.5 L569.7,1411.7 L571.5,1411.9 L573.3,1412.0 L575.1,1412.1 L576.9,1412.2 L578.7,1412.3 L580.5,1412.3 L582.3,1412.4 L584.1,1412.4 L585.9,1412.4 L587.7,1412.4 L589.5,1412.3 L591.3,1412.3 L593.1,1412.2 L594.9,1412.2 L596.7,1412.1 L598.5,1412.1 L600.3,1412.0 L602.1,1411.9 L603.9,1411.9 L605.7,1411.8 L607.5,1411.8 L609.3,1411.7 L611.2,1411.7 L613.0,1411.7 L614.8,1411.7 L616.6,1411.7 L618.4,1411.7 L620.2,1411.7 L622.0,1411.7 L623.8,1411.7 L625.6,1411.7 L627.4,1411.7 L629.2,1411.7 L631.0,1411.7 L632.8,1411.7 L634.6,1411.7 L636.4,1411.7 L638.2,1411.8 L640.0,1411.8 L641.8,1411.8 L643.6,1411.8 L645.4,1411.8 L647.2,1411.7 L649.0,1411.7 L650.8,1411.7 L652.6,1411.7 L654.4,1411.6 L656.2,1411.6 L658.0,1411.5 L659.8,1411.5 L661.6,1411.4 L663.4,1411.3 L665.2,1411.2 L667.0,1411.1 L668.8,1411.0 L670.6,1410.8 L672.4,1410.7 L674.2,1410.5 L676.0,1410.4 L677.8,1410.2 L679.6,1410.0 L681.4,1409.8 L683.2,1409.6 L684.9,1409.5 L686.7,1409.2 L688.5,1409.0 L690.3,1408.8 L692.1,1408.6 L693.9,1408.4 L695.7,1408.2 L697.5,1408.0 L699.3,1407.7 L701.0,1407.5 L702.8,1407.3 L704.6,1407.0 L706.4,1406.8 L708.2,1406.6 L710.0,1406.4 L711.8,1406.1 L713.6,1405.9 L715.4,1405.7 L717.1,1405.5 L718.9,1405.3 L720.7,1405.1 L722.5,1404.8 L724.3,1404.6 L726.1,1404.4 L727.9,1404.3 L729.7,1404.1 L731.5,1403.9 L733.3,1403.7 L735.1,1403.5 L736.9,1403.4 L738.6,1403.2 L740.4,1403.1 L742.2,1403.0 L744.0,1402.8 L745.8,1402.7 L747.6,1402.6 L749.4,1402.4 L751.2,1402.3 L753.0,1402.1 L754.8,1402.0 L756.6,1401.8 L758.4,1401.5 L760.2,1401.3 L762.0,1401.0 L763.7,1400.7 L765.5,1400.4 L767.3,1400.0 L769.0,1399.5 L770.7,1399.1 L772.5,1398.5 L774.2,1397.9 L775.8,1397.2 L777.5,1396.5 L779.1,1395.6 L780.6,1394.8 L782.2,1393.8 L783.7,1392.8 L785.2,1391.8 L786.6,1390.7 L788.0,1389.6 L789.4,1388.5 L790.8,1387.3 L792.1,1386.1 L793.4,1384.8 L794.7,1383.6 L796.0,1382.3 L797.3,1381.1 L798.5,1379.8 L799.8,1378.5 L801.0,1377.2 L802.3,1375.8 L803.5,1374.5 L804.7,1373.2 L806.0,1371.9 L807.2,1370.6 L808.5,1369.3 L809.7,1368.0 L811.0,1366.7 L812.3,1365.5 L813.6,1364.2 L814.9,1363.0 L816.2,1361.8 L817.6,1360.6 L819.0,1359.5 L820.4,1358.3 L821.8,1357.3 L823.3,1356.2 L824.8,1355.2 L826.4,1354.3 L827.9,1353.4 L829.6,1352.6 L831.2,1351.9 L832.9,1351.2 L834.6,1350.7 L836.3,1350.2 L838.1,1349.8 L839.8,1349.4 L841.6,1349.1 L843.4,1348.8 L845.2,1348.6 L847.0,1348.4 L848.8,1348.3 L850.6,1348.2 L852.4,1348.0 L854.2,1347.9 L856.0,1347.8 L857.8,1347.6 L859.6,1347.5 L861.4,1347.3 L863.1,1347.1 L864.9,1346.9 L866.7,1346.6 L868.5,1346.2 L870.2,1345.8 L872.0,1345.4 L873.7,1344.9 L875.4,1344.3 L877.1,1343.6 L878.7,1342.8 L880.3,1342.1 L882.0,1341.3 L883.6,1340.5 L885.3,1339.9 L887.0,1339.3 L888.7,1338.8 L890.5,1338.6 L892.3,1338.6 L894.1,1338.9 L895.9,1339.2 L897.6,1339.7 L899.3,1340.2 L901.1,1340.6 L902.8,1341.0 L904.6,1341.3 L906.4,1341.5 L908.2,1341.7 L910.0,1341.7 L911.8,1341.7 L913.6,1341.5 L915.4,1341.3 L917.2,1341.0 L918.9,1340.5 L920.6,1340.0 L922.3,1339.3 L923.9,1338.5 L925.5,1337.6 L927.0,1336.6 L928.4,1335.5 L929.7,1334.3 L931.0,1333.0 L932.2,1331.7 L933.4,1330.3 L934.4,1328.9 L935.5,1327.4 L936.4,1325.8 L937.3,1324.3 L938.2,1322.7 L939.0,1321.1 L939.8,1319.5 L940.5,1317.8 L941.3,1316.2 L942.0,1314.5 L942.7,1312.9 L943.3,1311.2 L944.0,1309.5 L944.6,1307.8 L945.2,1306.1 L945.9,1304.4 L946.5,1302.8 L947.1,1301.1 L947.8,1299.4 L948.4,1297.7 L949.1,1296.0 L949.7,1294.3 L950.4,1292.7 L951.1,1291.0 L951.8,1289.3 L952.5,1287.7 L953.2,1286.0 L953.9,1284.4 L954.7,1282.7 L955.4,1281.1 L956.1,1279.4 L956.8,1277.8 L957.5,1276.1 L958.2,1274.5 L959.0,1272.8 L959.7,1271.1 L960.3,1269.5 L961.0,1267.8 L961.7,1266.1 L962.3,1264.4 L962.9,1262.8 L963.6,1261.1 L964.1,1259.4 L964.7,1257.6 L965.2,1255.9 L965.7,1254.2 L966.2,1252.5 L966.6,1250.7 L967.1,1249.0 L967.5,1247.2 L967.9,1245.4 L968.2,1243.7 L968.6,1241.9 L968.9,1240.1 L969.3,1238.4 L969.6,1236.6 L969.9,1234.8 L970.3,1233.1 L970.6,1231.3 L971.0,1229.5 L971.3,1227.7 L971.6,1226.0 L972.0,1224.2 L972.4,1222.5 L972.8,1220.7 L973.2,1218.9 L973.6,1217.2 L974.0,1215.4 L974.5,1213.7 L975.0,1212.0 L975.6,1210.3 L976.2,1208.6 L977.0,1207.0 L978.0,1205.5 L979.4,1204.3 L981.0,1203.6 L982.8,1203.9 L984.2,1205.0 L985.3,1206.4 L986.1,1208.0 L986.8,1209.7 L987.3,1211.4 L987.8,1213.2 L988.2,1214.9 L988.6,1216.7 L988.9,1218.4 L989.3,1220.2 L989.6,1222.0 L990.0,1223.7 L990.3,1225.5 L990.6,1227.3 L991.0,1229.1 L991.3,1230.8 L991.6,1232.6 L991.9,1234.4 L992.2,1236.2 L992.5,1237.9 L992.8,1239.7 L993.0,1241.5 L993.3,1243.3 L993.6,1245.1 L993.9,1246.8 L994.1,1248.6 L994.4,1250.4 L994.7,1252.2 L994.9,1254.0 L995.2,1255.8 L995.5,1257.5 L995.7,1259.3 L996.0,1261.1 L996.3,1262.9 L996.5,1264.7 L996.8,1266.4 L997.0,1268.2 L997.3,1270.0 L997.6,1271.8 L997.8,1273.6 L998.1,1275.4 L998.4,1277.1 L998.6,1278.9 L998.9,1280.7 L999.2,1282.5 L999.5,1284.3 L999.7,1286.1 L1000.0,1287.8 L1000.3,1289.6 L1000.5,1291.4 L1000.8,1293.2 L1001.1,1295.0 L1001.4,1296.7 L1001.6,1298.5 L1001.9,1300.3 L1002.2,1302.1 L1002.5,1303.9 L1002.7,1305.6 L1003.0,1307.4 L1003.3,1309.2 L1003.6,1311.0 L1003.9,1312.8 L1004.1,1314.5 L1004.4,1316.3 L1004.7,1318.1 L1005.0,1319.9 L1005.3,1321.7 L1005.6,1323.4 L1005.8,1325.2 L1006.1,1327.0 L1006.4,1328.8 L1006.7,1330.6 L1007.0,1332.3 L1007.3,1334.1 L1007.6,1335.9 L1007.9,1337.7 L1008.2,1339.4 L1008.5,1341.2 L1008.8,1343.0 L1009.1,1344.8 L1009.4,1346.6 L1009.7,1348.3 L1010.0,1350.1 L1010.3,1351.9 L1010.6,1353.7 L1011.0,1355.4 L1011.3,1357.2 L1011.7,1359.0 L1012.1,1360.7 L1012.5,1362.5 L1012.9,1364.2 L1013.3,1366.0 L1013.7,1367.7 L1014.2,1369.5 L1014.7,1371.2 L1015.2,1372.9 L1015.7,1374.7 L1016.3,1376.4 L1016.9,1378.1 L1017.5,1379.8 L1018.1,1381.5 L1018.8,1383.1 L1019.5,1384.8 L1020.3,1386.4 L1021.0,1388.0 L1021.9,1389.6 L1022.7,1391.2 L1023.6,1392.8 L1024.6,1394.3 L1025.6,1395.8 L1026.6,1397.3 L1027.6,1398.8 L1028.8,1400.2 L1029.9,1401.6 L1031.1,1402.9 L1032.4,1404.2 L1033.6,1405.5 L1035.0,1406.7 L1036.3,1407.9 L1037.7,1409.0 L1039.2,1410.1 L1040.6,1411.2 L1042.1,1412.2 L1043.6,1413.1 L1045.2,1414.1 L1046.8,1414.9 L1048.4,1415.8 L1050.0,1416.5 L1051.6,1417.3 L1053.3,1418.0 L1055.0,1418.6 L1056.7,1419.2 L1058.4,1419.7 L1060.1,1420.2 L1061.9,1420.7 L1063.7,1421.0 L1065.4,1421.4 L1067.2,1421.6 L1069.0,1421.8 L1070.8,1421.9 L1072.6,1422.0 L1074.4,1422.0 L1076.2,1421.9 L1078.0,1421.8" stroke="#000" stroke-width="8.6"/>
<path class="cv" d="M255.3,1358.8 L256.9,1359.6 L258.5,1360.3 L260.2,1361.0 L261.9,1361.6 L263.6,1362.1 L265.4,1362.6 L267.2,1362.9 L268.9,1363.2 L270.7,1363.5 L272.5,1363.6 L274.4,1363.6 L276.2,1363.6 L278.0,1363.4 L279.7,1363.1 L281.5,1362.7 L283.2,1362.2 L284.9,1361.4 L286.4,1360.6 L287.9,1359.5 L289.3,1358.4 L290.6,1357.1 L291.8,1355.8 L292.9,1354.3 L294.0,1352.8 L294.9,1351.3 L295.8,1349.7 L296.7,1348.2 L297.5,1346.5 L298.2,1344.9 L299.0,1343.2 L299.7,1341.6 L300.4,1339.9 L301.0,1338.2 L301.7,1336.5 L302.3,1334.9 L303.0,1333.2 L303.6,1331.5 L304.2,1329.8 L304.8,1328.1 L305.4,1326.3 L306.0,1324.6 L306.5,1322.9 L307.1,1321.2 L307.6,1319.5 L308.1,1317.7 L308.6,1316.0 L309.1,1314.3 L309.6,1312.5 L310.1,1310.8 L310.5,1309.0 L311.0,1307.3 L311.4,1305.5 L311.9,1303.8 L312.3,1302.0 L312.7,1300.3 L313.1,1298.5 L313.5,1296.7 L313.9,1295.0 L314.3,1293.2 L314.7,1291.4 L315.1,1289.7 L315.4,1287.9 L315.8,1286.1 L316.1,1284.3 L316.5,1282.6 L316.8,1280.8 L317.1,1279.0 L317.5,1277.2 L317.8,1275.5 L318.1,1273.7 L318.4,1271.9 L318.7,1270.1 L319.0,1268.3 L319.4,1266.6 L319.7,1264.8 L320.0,1263.0 L320.2,1261.2 L320.5,1259.4 L320.8,1257.6 L321.1,1255.9 L321.4,1254.1 L321.7,1252.3 L322.0,1250.5 L322.3,1248.7 L322.6,1246.9 L322.9,1245.2 L323.1,1243.4 L323.4,1241.6 L323.7,1239.8 L324.0,1238.0 L324.3,1236.2 L324.5,1234.4 L324.8,1232.7 L325.1,1230.9 L325.4,1229.1 L325.7,1227.3 L325.9,1225.5 L326.2,1223.7 L326.5,1221.9 L326.8,1220.2 L327.0,1218.4 L327.3,1216.6 L327.6,1214.8 L327.8,1213.0 L328.1,1211.2 L328.4,1209.4 L328.6,1207.6 L328.9,1205.9 L329.2,1204.1 L329.4,1202.3 L329.7,1200.5 L330.0,1198.7 L330.2,1196.9 L330.5,1195.1 L330.7,1193.3 L331.0,1191.5 L331.3,1189.8 L331.5,1188.0 L331.8,1186.2 L332.0,1184.4 L332.3,1182.6 L332.5,1180.8 L332.8,1179.0 L333.0,1177.2 L333.3,1175.4 L333.5,1173.6 L333.8,1171.9 L334.0,1170.1 L334.3,1168.3 L334.5,1166.5 L334.8,1164.7 L335.0,1162.9 L335.3,1161.1 L335.5,1159.3 L335.7,1157.5 L336.0,1155.7 L336.2,1153.9 L336.5,1152.1 L336.7,1150.4 L336.9,1148.6 L337.2,1146.8 L337.4,1145.0 L337.6,1143.2 L337.9,1141.4 L338.1,1139.6 L338.3,1137.8 L338.6,1136.0 L338.8,1134.2 L339.0,1132.4 L339.2,1130.6 L339.5,1128.8 L339.7,1127.1 L339.9,1125.3 L340.1,1123.5 L340.4,1121.7 L340.6,1119.9 L340.8,1118.1 L341.0,1116.3 L341.2,1114.5 L341.5,1112.7 L341.7,1110.9 L341.9,1109.1 L342.1,1107.3 L342.3,1105.5 L342.5,1103.7 L342.7,1101.9 L343.0,1100.1 L343.2,1098.3 L343.4,1096.5 L343.6,1094.7 L343.8,1093.0 L344.0,1091.2 L344.2,1089.4 L344.4,1087.6 L344.6,1085.8 L344.8,1084.0 L345.0,1082.2 L345.2,1080.4 L345.4,1078.6 L345.6,1076.8 L345.8,1075.0 L346.0,1073.2 L346.2,1071.4 L346.4,1069.6 L346.6,1067.8 L346.8,1066.0 L347.0,1064.2 L347.2,1062.4 L347.4,1060.6 L347.6,1058.8 L347.8,1057.0 L347.9,1055.2 L348.1,1053.4 L348.3,1051.6 L348.5,1049.8 L348.7,1048.0 L348.9,1046.2 L349.1,1044.4 L349.2,1042.6 L349.4,1040.8 L349.6,1039.0 L349.8,1037.2 L350.0,1035.4 L350.1,1033.6 L350.3,1031.8 L350.5,1030.0 L350.7,1028.2 L350.8,1026.4 L351.0,1024.6 L351.2,1022.8 L351.3,1021.0 L351.5,1019.2 L351.7,1017.4 L351.8,1015.6 L352.0,1013.8 L352.2,1012.0 L352.3,1010.2 L352.5,1008.4 L352.7,1006.6 L352.8,1004.8 L353.0,1003.0 L353.2,1001.2 L353.3,999.4 L353.5,997.6 L353.6,995.8 L353.8,994.0 L353.9,992.2 L354.1,990.4 L354.2,988.6 L354.4,986.8 L354.6,985.0 L354.7,983.2 L354.9,981.4 L355.0,979.6 L355.1,977.8 L355.3,976.0 L355.4,974.2 L355.6,972.4 L355.7,970.6 L355.9,968.8 L356.0,967.0 L356.2,965.2 L356.3,963.4 L356.4,961.6 L356.6,959.8 L356.7,958.0 L356.8,956.2 L357.0,954.4 L357.1,952.6 L357.2,950.8 L357.4,949.0 L357.5,947.2 L357.6,945.4 L357.8,943.6 L357.9,941.8 L358.0,940.0 L358.2,938.2 L358.3,936.4 L358.4,934.6 L358.5,932.8 L358.7,931.0 L358.8,929.2 L358.9,927.4 L359.0,925.6 L359.1,923.7 L359.3,921.9 L359.4,920.1 L359.5,918.3 L359.6,916.5 L359.7,914.7 L359.8,912.9 L359.9,911.1 L360.1,909.3 L360.2,907.5 L360.3,905.7 L360.4,903.9 L360.5,902.1 L360.6,900.3 L360.7,898.5 L360.8,896.7 L360.9,894.9 L361.0,893.1 L361.1,891.3 L361.2,889.5 L361.3,887.7 L361.4,885.9 L361.5,884.1 L361.6,882.2 L361.7,880.4 L361.8,878.6 L361.9,876.8 L362.0,875.0 L362.1,873.2 L362.2,871.4 L362.3,869.6 L362.4,867.8 L362.4,866.0 L362.5,864.2 L362.6,862.4 L362.7,860.6 L362.8,858.8 L362.9,857.0 L363.0,855.2 L363.0,853.4 L363.1,851.6 L363.2,849.7 L363.3,847.9 L363.4,846.1 L363.5,844.3 L363.6,842.5 L363.7,840.7 L363.7,838.9 L363.8,837.1 L363.9,835.3 L364.0,833.5 L364.1,831.7 L364.2,829.9 L364.3,828.1 L364.4,826.3 L364.5,824.5 L364.6,822.7 L364.7,820.9 L364.8,819.1 L364.9,817.3 L365.0,815.4 L365.1,813.6 L365.2,811.8 L365.3,810.0 L365.4,808.2 L365.6,806.4 L365.7,804.6 L365.8,802.8 L365.9,801.0 L366.1,799.2 L366.2,797.4 L366.3,795.6 L366.5,793.8 L366.6,792.0 L366.7,790.2 L366.9,788.4 L367.0,786.6 L367.2,784.8 L367.3,783.0 L367.5,781.2 L367.7,779.4 L367.8,777.6 L368.0,775.8 L368.2,774.0 L368.4,772.2 L368.5,770.4 L368.7,768.6 L368.9,766.8 L369.1,765.0 L369.3,763.2 L369.5,761.4 L369.7,759.6 L370.0,757.8 L370.2,756.0 L370.4,754.2 L370.6,752.4 L370.9,750.7 L371.1,748.9 L371.4,747.1 L371.6,745.3 L371.9,743.5 L372.1,741.7 L372.4,739.9 L372.7,738.1 L373.0,736.3 L373.3,734.6 L373.6,732.8 L373.9,731.0 L374.2,729.2 L374.5,727.4 L374.8,725.7 L375.1,723.9 L375.5,722.1 L375.8,720.3 L376.2,718.6 L376.6,716.8 L377.0,718.6 L377.3,720.3 L377.6,722.1 L378.0,723.9 L378.3,725.7 L378.5,727.4 L378.8,729.2 L379.1,731.0 L379.4,732.8 L379.7,734.6 L379.9,736.3 L380.2,738.1 L380.5,739.9 L380.7,741.7 L381.0,743.5 L381.2,745.3 L381.4,747.1 L381.7,748.8 L381.9,750.6 L382.1,752.4 L382.3,754.2 L382.5,756.0 L382.7,757.8 L382.9,759.6 L383.1,761.4 L383.3,763.2 L383.5,765.0 L383.7,766.8 L383.9,768.6 L384.1,770.3 L384.2,772.1 L384.4,773.9 L384.6,775.7 L384.7,777.5 L384.9,779.3 L385.1,781.1 L385.2,782.9 L385.4,784.7 L385.5,786.5 L385.6,788.3 L385.8,790.1 L385.9,791.9 L386.1,793.7 L386.2,795.5 L386.3,797.3 L386.4,799.1 L386.6,800.9 L386.7,802.7 L386.8,804.5 L386.9,806.3 L387.0,808.1 L387.1,809.9 L387.2,811.7 L387.3,813.5 L387.4,815.3 L387.5,817.1 L387.6,818.9 L387.7,820.7 L387.8,822.5 L387.9,824.3 L388.0,826.1 L388.1,827.9 L388.2,829.7 L388.3,831.5 L388.4,833.3 L388.4,835.1 L388.5,836.9 L388.6,838.7 L388.7,840.5 L388.8,842.3 L388.8,844.1 L388.9,845.9 L389.0,847.7 L389.1,849.5 L389.1,851.3 L389.2,853.1 L389.3,854.9 L389.4,856.7 L389.4,858.5 L389.5,860.3 L389.6,862.1 L389.7,863.9 L389.7,865.7 L389.8,867.5 L389.9,869.3 L390.0,871.1 L390.0,872.9 L390.1,874.7 L390.2,876.5 L390.3,878.3 L390.3,880.1 L390.4,881.9 L390.5,883.7 L390.6,885.5 L390.6,887.3 L390.7,889.1 L390.8,890.9 L390.9,892.7 L391.0,894.5 L391.0,896.3 L391.1,898.1 L391.2,899.9 L391.3,901.7 L391.4,903.5 L391.4,905.3 L391.5,907.1 L391.6,908.9 L391.7,910.7 L391.8,912.6 L391.9,914.4 L391.9,916.2 L392.0,918.0 L392.1,919.8 L392.2,921.6 L392.3,923.4 L392.4,925.2 L392.4,927.0 L392.5,928.8 L392.6,930.6 L392.7,932.4 L392.8,934.2 L392.9,936.0 L393.0,937.8 L393.1,939.6 L393.1,941.4 L393.2,943.2 L393.3,945.0 L393.4,946.8 L393.5,948.6 L393.6,950.4 L393.7,952.2 L393.8,954.0 L393.9,955.8 L393.9,957.6 L394.0,959.4 L394.1,961.2 L394.2,963.0 L394.3,964.8 L394.4,966.6 L394.5,968.4 L394.6,970.2 L394.7,972.0 L394.8,973.8 L394.9,975.6 L395.0,977.4 L395.1,979.2 L395.2,981.0 L395.3,982.8 L395.4,984.6 L395.5,986.4 L395.6,988.2 L395.7,990.0 L395.8,991.8 L395.9,993.6 L396.0,995.4 L396.1,997.2 L396.2,999.0 L396.3,1000.8 L396.4,1002.6 L396.5,1004.4 L396.6,1006.2 L396.7,1008.0 L396.8,1009.8 L396.9,1011.6 L397.0,1013.4 L397.1,1015.2 L397.2,1017.0 L397.3,1018.8 L397.4,1020.6 L397.5,1022.4 L397.6,1024.2 L397.7,1026.0 L397.8,1027.8 L397.9,1029.6 L398.0,1031.4 L398.1,1033.2 L398.2,1035.0 L398.3,1036.8 L398.5,1038.6 L398.6,1040.4 L398.7,1042.2 L398.8,1044.0 L398.9,1045.8 L399.0,1047.6 L399.1,1049.4 L399.2,1051.2 L399.3,1053.0 L399.5,1054.8 L399.6,1056.6 L399.7,1058.4 L399.8,1060.2 L399.9,1062.0 L400.0,1063.8 L400.1,1065.6 L400.2,1067.4 L400.4,1069.2 L400.5,1071.0 L400.6,1072.8 L400.7,1074.6 L400.8,1076.4 L400.9,1078.2 L401.1,1080.0 L401.2,1081.8 L401.3,1083.6 L401.4,1085.4 L401.5,1087.2 L401.7,1089.0 L401.8,1090.8 L401.9,1092.6 L402.0,1094.3 L402.1,1096.1 L402.3,1097.9 L402.4,1099.7 L402.5,1101.5 L402.6,1103.3 L402.8,1105.1 L402.9,1106.9 L403.0,1108.7 L403.1,1110.5 L403.2,1112.3 L403.4,1114.1 L403.5,1115.9 L403.6,1117.7 L403.8,1119.5 L403.9,1121.3 L404.0,1123.1 L404.1,1124.9 L404.3,1126.7 L404.4,1128.5 L404.5,1130.3 L404.6,1132.1 L404.8,1133.9 L404.9,1135.7 L405.0,1137.5 L405.2,1139.3 L405.3,1141.1 L405.4,1142.9 L405.6,1144.7 L405.7,1146.5 L405.8,1148.3 L406.0,1150.1 L406.1,1151.9 L406.2,1153.7 L406.4,1155.5 L406.5,1157.3 L406.6,1159.1 L406.8,1160.9 L406.9,1162.7 L407.0,1164.5 L407.2,1166.3 L407.3,1168.1 L407.5,1169.9 L407.6,1171.7 L407.7,1173.5 L407.9,1175.3 L408.0,1177.1 L408.2,1178.9 L408.3,1180.7 L408.4,1182.5 L408.6,1184.3 L408.7,1186.1 L408.9,1187.8 L409.0,1189.6 L409.2,1191.4 L409.3,1193.2 L409.5,1195.0 L409.6,1196.8 L409.8,1198.6 L410.0,1200.4 L410.1,1202.2 L410.3,1204.0 L410.5,1205.8 L410.6,1207.6 L410.8,1209.4 L411.0,1211.2 L411.2,1213.0 L411.3,1214.8 L411.5,1216.6 L411.7,1218.4 L411.9,1220.2 L412.1,1221.9 L412.3,1223.7 L412.5,1225.5 L412.7,1227.3 L412.9,1229.1 L413.1,1230.9 L413.3,1232.7 L413.6,1234.5 L413.8,1236.3 L414.0,1238.1 L414.3,1239.8 L414.5,1241.6 L414.7,1243.4 L415.0,1245.2 L415.2,1247.0 L415.5,1248.8 L415.8,1250.6 L416.0,1252.3 L416.3,1254.1 L416.6,1255.9 L416.9,1257.7 L417.1,1259.5 L417.4,1261.2 L417.7,1263.0 L418.0,1264.8 L418.4,1266.6 L418.7,1268.4 L419.0,1270.1 L419.3,1271.9 L419.7,1273.7 L420.0,1275.4 L420.4,1277.2 L420.7,1279.0 L421.1,1280.7 L421.4,1282.5 L421.8,1284.3 L422.2,1286.0 L422.6,1287.8 L423.0,1289.6 L423.4,1291.3 L423.8,1293.1 L424.2,1294.8 L424.6,1296.6 L425.0,1298.3 L425.4,1300.1 L425.8,1301.9 L426.2,1303.6 L426.6,1305.4 L427.0,1307.1 L427.3,1308.9 L427.7,1310.7 L428.1,1312.4 L428.5,1314.2 L428.9,1315.9 L429.3,1317.7 L429.7,1319.5 L430.1,1321.2 L430.5,1323.0 L430.9,1324.7 L431.3,1326.5 L431.8,1328.2 L432.3,1330.0 L432.8,1331.7 L433.4,1333.4 L434.1,1335.1 L434.8,1336.7 L435.5,1338.3 L436.4,1339.9 L437.3,1341.5 L438.3,1343.0 L439.4,1344.4 L440.6,1345.7 L442.0,1346.9 L443.5,1347.9 L445.2,1348.5 L447.0,1348.5 L448.7,1347.8 L450.2,1346.8 L451.5,1345.5 L452.6,1344.1 L453.6,1342.6 L454.4,1341.0 L455.2,1339.4 L455.9,1337.7 L456.5,1336.1 L457.1,1334.4 L457.7,1332.7 L458.3,1330.9 L458.8,1329.2 L459.4,1327.5 L459.9,1325.8 L460.4,1324.1 L461.0,1322.3 L461.5,1320.6 L462.0,1318.9 L462.5,1317.1 L463.0,1315.4 L463.4,1313.7 L463.9,1311.9 L464.4,1310.2 L464.8,1308.4 L465.2,1306.7 L465.7,1304.9 L466.1,1303.2 L466.5,1301.4 L466.9,1299.7 L467.3,1297.9 L467.7,1296.2 L468.1,1294.4 L468.5,1292.6 L468.8,1290.9 L469.2,1289.1 L469.5,1287.3 L469.9,1285.6 L470.2,1283.8 L470.6,1282.0 L470.9,1280.2 L471.2,1278.5 L471.5,1276.7 L471.8,1274.9 L472.1,1273.1 L472.4,1271.4 L472.7,1269.6 L473.0,1267.8 L473.3,1266.0 L473.5,1264.2 L473.8,1262.5 L474.0,1260.7 L474.3,1258.9 L474.5,1257.1 L474.8,1255.3 L475.0,1253.5 L475.2,1251.7 L475.5,1249.9 L475.7,1248.2 L475.9,1246.4 L476.1,1244.6 L476.3,1242.8 L476.5,1241.0 L476.7,1239.2 L476.9,1237.4 L477.1,1235.6 L477.3,1233.8 L477.4,1232.0 L477.6,1230.2 L477.8,1228.4 L478.0,1226.6 L478.1,1224.8 L478.3,1223.0 L478.4,1221.3 L478.6,1219.5 L478.7,1217.7 L478.9,1215.9 L479.0,1214.1 L479.2,1212.3 L479.3,1210.5 L479.4,1208.7 L479.6,1206.9 L479.7,1205.1 L479.8,1203.3 L479.9,1201.5 L480.1,1199.7 L480.2,1197.9 L480.3,1196.1 L480.4,1194.3 L480.5,1192.5 L480.6,1190.7 L480.7,1188.9 L480.9,1187.1 L481.0,1185.3 L481.1,1183.5 L481.2,1181.7 L481.3,1179.9 L481.4,1178.1 L481.5,1176.3 L481.6,1174.5 L481.7,1172.7 L481.8,1170.9 L481.9,1169.1 L482.0,1167.3 L482.1,1165.5 L482.2,1163.7 L482.2,1161.9 L482.3,1160.1 L482.4,1158.3 L482.5,1156.5 L482.6,1154.7 L482.7,1152.9 L482.8,1151.1 L482.9,1149.3 L483.0,1147.5 L483.1,1145.7 L483.2,1143.9 L483.3,1142.1 L483.4,1140.3 L483.4,1138.5 L483.5,1136.7 L483.6,1134.9 L483.7,1133.1 L483.8,1131.3 L483.9,1129.5 L484.0,1127.7 L484.1,1125.9 L484.1,1124.1 L484.2,1122.3 L484.3,1120.5 L484.4,1118.7 L484.5,1116.9 L484.6,1115.1 L484.7,1113.3 L484.7,1111.5 L484.8,1109.7 L484.9,1107.9 L485.0,1106.1 L485.1,1104.3 L485.1,1102.5 L485.2,1100.7 L485.3,1098.9 L485.4,1097.1 L485.5,1095.3 L485.6,1093.5 L485.6,1091.7 L485.7,1089.9 L485.8,1088.1 L485.9,1086.2 L485.9,1084.4 L486.0,1082.6 L486.1,1080.8 L486.2,1079.0 L486.2,1077.2 L486.3,1075.4 L486.4,1073.6 L486.5,1071.8 L486.6,1070.0 L486.6,1068.2 L486.7,1066.4 L486.8,1064.6 L486.8,1062.8 L486.9,1061.0 L487.0,1059.2 L487.1,1057.4 L487.1,1055.6 L487.2,1053.8 L487.3,1052.0 L487.3,1050.2 L487.4,1048.4 L487.5,1046.6 L487.6,1044.8 L487.6,1043.0 L487.7,1041.2 L487.8,1039.4 L487.8,1037.6 L487.9,1035.8 L488.0,1034.0 L488.0,1032.2 L488.1,1030.4 L488.2,1028.6 L488.2,1026.8 L488.3,1025.0 L488.4,1023.2 L488.4,1021.4 L488.5,1019.6 L488.6,1017.8 L488.6,1016.0 L488.7,1014.2 L488.8,1012.4 L488.8,1010.6 L488.9,1008.8 L488.9,1007.0 L489.0,1005.2 L489.1,1003.4 L489.1,1001.6 L489.2,999.8 L489.3,998.0 L489.3,996.2 L489.4,994.4 L489.4,992.6 L489.5,990.8 L489.6,989.0 L489.6,987.2 L489.7,985.4 L489.7,983.6 L489.8,981.8 L489.9,980.0 L489.9,978.2 L490.0,976.4 L490.0,974.5 L490.1,972.7 L490.1,970.9 L490.2,969.1 L490.2,967.3 L490.3,965.5 L490.4,963.7 L490.4,961.9 L490.5,960.1 L490.5,958.3 L490.6,956.5 L490.6,954.7 L490.7,952.9 L490.7,951.1 L490.8,949.3 L490.8,947.5 L490.9,945.7 L491.0,943.9 L491.0,942.1 L491.1,940.3 L491.1,938.5 L491.2,936.7 L491.2,934.9 L491.3,933.1 L491.3,931.3 L491.4,929.5 L491.4,927.7 L491.5,925.9 L491.5,924.1 L491.6,922.3 L491.6,920.5 L491.7,918.7 L491.7,916.9 L491.7,915.1 L491.8,913.3 L491.8,911.5 L491.9,909.7 L491.9,907.9 L492.0,906.1 L492.0,904.3 L492.1,902.5 L492.1,900.7 L492.2,898.9 L492.2,897.1 L492.3,895.3 L492.3,893.5 L492.3,891.6 L492.4,889.8 L492.4,888.0 L492.5,886.2 L492.5,884.4 L492.6,882.6 L492.6,880.8 L492.7,879.0 L492.7,877.2 L492.7,875.4 L492.8,873.6 L492.8,871.8 L492.9,870.0 L492.9,868.2 L492.9,866.4 L493.0,864.6 L493.0,862.8 L493.1,861.0 L493.1,859.2 L493.2,857.4 L493.2,855.6 L493.2,853.8 L493.3,852.0 L493.3,850.2 L493.3,848.4 L493.4,846.6 L493.4,844.8 L493.5,843.0 L493.5,841.2 L493.5,839.4 L493.6,837.6 L493.6,835.8 L493.7,834.0 L493.7,832.2 L493.7,830.4 L493.8,828.6 L493.8,826.8 L493.8,825.0 L493.9,823.2 L493.9,821.4 L493.9,819.6 L494.0,817.7 L494.0,815.9 L494.1,814.1 L494.1,812.3 L494.1,810.5 L494.2,808.7 L494.2,806.9 L494.2,805.1 L494.3,803.3 L494.3,801.5 L494.3,799.7 L494.4,797.9 L494.4,796.1 L494.4,794.3 L494.5,792.5 L494.5,790.7 L494.5,788.9 L494.6,787.1 L494.6,785.3 L494.6,783.5 L494.7,781.7 L494.7,779.9 L494.7,778.1 L494.7,776.3 L494.8,774.5 L494.8,772.7 L494.8,770.9 L494.9,769.1 L494.9,767.3 L494.9,765.5 L495.0,763.7 L495.0,761.9 L495.0,760.1 L495.1,758.3 L495.1,756.5 L495.1,754.7 L495.1,752.9 L495.2,751.1 L495.2,749.2 L495.2,747.4 L495.3,745.6 L495.3,743.8 L495.3,742.0 L495.3,740.2 L495.4,738.4 L495.4,736.6 L495.4,734.8 L495.5,733.0 L495.5,731.2 L495.5,729.4 L495.5,727.6 L495.6,725.8 L495.6,724.0 L495.6,722.2 L495.6,720.4 L495.7,718.6 L495.7,716.8 L495.7,715.0 L495.7,713.2 L495.8,711.4 L495.8,709.6 L495.8,707.8 L495.8,706.0 L495.9,704.2 L495.9,702.4 L495.9,700.6 L496.0,698.8 L496.0,697.0 L496.0,695.2 L496.0,693.4 L496.1,691.6 L496.1,689.8 L496.1,688.0 L496.1,686.2 L496.1,684.4 L496.2,682.5 L496.2,680.7 L496.2,678.9 L496.2,677.1 L496.3,675.3 L496.3,673.5 L496.3,671.7 L496.3,669.9 L496.4,668.1 L496.4,666.3 L496.4,664.5 L496.4,662.7 L496.5,660.9 L496.5,659.1 L496.5,657.3 L496.5,655.5 L496.5,653.7 L496.6,651.9 L496.6,650.1 L496.6,648.3 L496.6,646.5 L496.7,644.7 L496.7,642.9 L496.7,641.1 L496.7,639.3 L496.7,637.5 L496.8,635.7 L496.8,633.9 L496.8,632.1 L496.8,630.3 L496.9,628.5 L496.9,626.7 L496.9,624.9 L496.9,623.1 L496.9,621.3 L497.0,619.5 L497.0,617.7 L497.0,615.8 L497.0,614.0 L497.0,612.2 L497.1,610.4 L497.1,608.6 L497.1,606.8 L497.1,605.0 L497.2,603.2 L497.2,601.4 L497.2,599.6 L497.2,597.8 L497.2,596.0 L497.3,594.2 L497.3,592.4 L497.3,590.6 L497.3,588.8 L497.3,587.0 L497.4,585.2 L497.4,583.4 L497.4,581.6 L497.4,579.8 L497.4,578.0 L497.5,576.2 L497.5,574.4 L497.5,572.6 L497.5,570.8 L497.5,569.0 L497.6,567.2 L497.6,565.4 L497.6,563.6 L497.6,561.8 L497.6,560.0 L497.7,558.2 L497.7,556.4 L497.7,554.6 L497.7,552.8 L497.7,550.9 L497.8,549.1 L497.8,547.3 L497.8,545.5 L497.8,543.7 L497.8,541.9 L497.9,540.1 L497.9,538.3 L497.9,536.5 L497.9,534.7 L497.9,532.9 L498.0,531.1 L498.0,529.3 L498.0,527.5 L498.0,525.7 L498.0,523.9 L498.1,522.1 L498.1,520.3 L498.1,518.5 L498.1,516.7 L498.1,514.9 L498.1,513.1 L498.2,511.3 L498.2,509.5 L498.2,507.7 L498.2,505.9 L498.2,504.1 L498.3,502.3 L498.3,500.5 L498.3,498.7 L498.3,496.9 L498.3,495.1 L498.4,493.3 L498.4,491.5 L498.4,489.7 L498.4,487.9 L498.4,486.0 L498.5,484.2 L498.5,482.4 L498.5,480.6 L498.5,478.8 L498.5,477.0 L498.6,475.2 L498.6,473.4 L498.6,471.6 L498.6,469.8 L498.6,468.0 L498.7,466.2 L498.7,464.4 L498.7,462.6 L498.7,460.8 L498.7,459.0 L498.8,457.2 L498.8,455.4 L498.8,453.6 L498.8,451.8 L498.9,450.0 L498.9,448.2 L498.9,446.4 L498.9,444.6 L498.9,442.8 L499.0,441.0 L499.0,439.2 L499.0,437.4 L499.0,435.6 L499.0,433.8 L499.1,432.0 L499.1,430.2 L499.1,428.4 L499.1,426.6 L499.1,424.8 L499.2,423.0 L499.2,421.1 L499.2,419.3 L499.2,417.5 L499.3,415.7 L499.3,413.9 L499.3,412.1 L499.3,410.3 L499.3,408.5 L499.4,406.7 L499.4,404.9 L499.4,403.1 L499.4,401.3 L499.5,399.5 L499.5,397.7 L499.5,395.9 L499.5,394.1 L499.5,392.3 L499.6,390.5 L499.6,388.7 L499.6,386.9 L499.6,385.1 L499.7,383.3 L499.7,381.5 L499.7,379.7 L499.7,377.9 L499.8,376.1 L499.8,374.3 L499.8,372.5 L499.8,370.7 L499.9,368.9 L499.9,367.1 L499.9,365.3 L499.9,363.5 L499.9,361.7 L500.0,359.9 L500.0,358.1 L500.0,356.3 L500.0,354.4 L500.1,352.6 L500.1,350.8 L500.1,349.0 L500.2,347.2 L500.2,345.4 L500.2,343.6 L500.2,341.8 L500.3,340.0 L500.3,338.2 L500.3,336.4 L500.3,334.6 L500.4,332.8 L500.4,331.0 L500.4,329.2 L500.4,327.4 L500.5,325.6 L500.5,323.8 L500.5,322.0 L502.1,322.0 L502.1,323.8 L502.1,325.6 L502.2,327.4 L502.2,329.2 L502.2,331.0 L502.2,332.8 L502.3,334.6 L502.3,336.4 L502.3,338.2 L502.4,340.0 L502.4,341.8 L502.4,343.6 L502.4,345.4 L502.5,347.2 L502.5,349.0 L502.5,350.8 L502.6,352.7 L502.6,354.5 L502.6,356.3 L502.6,358.1 L502.7,359.9 L502.7,361.7 L502.7,363.5 L502.7,365.3 L502.8,367.1 L502.8,368.9 L502.8,370.7 L502.9,372.5 L502.9,374.3 L502.9,376.1 L502.9,377.9 L503.0,379.7 L503.0,381.5 L503.0,383.3 L503.0,385.1 L503.1,386.9 L503.1,388.7 L503.1,390.5 L503.1,392.3 L503.2,394.1 L503.2,395.9 L503.2,397.7 L503.2,399.5 L503.3,401.3 L503.3,403.1 L503.3,404.9 L503.3,406.7 L503.4,408.5 L503.4,410.3 L503.4,412.1 L503.4,413.9 L503.5,415.7 L503.5,417.5 L503.5,419.3 L503.5,421.1 L503.6,423.0 L503.6,424.8 L503.6,426.6 L503.6,428.4 L503.6,430.2 L503.7,432.0 L503.7,433.8 L503.7,435.6 L503.7,437.4 L503.8,439.2 L503.8,441.0 L503.8,442.8 L503.8,444.6 L503.8,446.4 L503.9,448.2 L503.9,450.0 L503.9,451.8 L503.9,453.6 L504.0,455.4 L504.0,457.2 L504.0,459.0 L504.0,460.8 L504.0,462.6 L504.1,464.4 L504.1,466.2 L504.1,468.0 L504.1,469.8 L504.2,471.6 L504.2,473.4 L504.2,475.2 L504.2,477.0 L504.2,478.8 L504.3,480.6 L504.3,482.4 L504.3,484.2 L504.3,486.0 L504.3,487.8 L504.4,489.7 L504.4,491.5 L504.4,493.3 L504.4,495.1 L504.4,496.9 L504.5,498.7 L504.5,500.5 L504.5,502.3 L504.5,504.1 L504.5,505.9 L504.6,507.7 L504.6,509.5 L504.6,511.3 L504.6,513.1 L504.6,514.9 L504.7,516.7 L504.7,518.5 L504.7,520.3 L504.7,522.1 L504.7,523.9 L504.8,525.7 L504.8,527.5 L504.8,529.3 L504.8,531.1 L504.8,532.9 L504.9,534.7 L504.9,536.5 L504.9,538.3 L504.9,540.1 L504.9,541.9 L505.0,543.7 L505.0,545.5 L505.0,547.3 L505.0,549.1 L505.0,550.9 L505.0,552.7 L505.1,554.5 L505.1,556.4 L505.1,558.2 L505.1,560.0 L505.1,561.8 L505.2,563.6 L505.2,565.4 L505.2,567.2 L505.2,569.0 L505.2,570.8 L505.3,572.6 L505.3,574.4 L505.3,576.2 L505.3,578.0 L505.3,579.8 L505.3,581.6 L505.4,583.4 L505.4,585.2 L505.4,587.0 L505.4,588.8 L505.4,590.6 L505.5,592.4 L505.5,594.2 L505.5,596.0 L505.5,597.8 L505.5,599.6 L505.5,601.4 L505.6,603.2 L505.6,605.0 L505.6,606.8 L505.6,608.6 L505.6,610.4 L505.7,612.2 L505.7,614.0 L505.7,615.8 L505.7,617.6 L505.7,619.4 L505.7,621.2 L505.8,623.1 L505.8,624.9 L505.8,626.7 L505.8,628.5 L505.8,630.3 L505.9,632.1 L505.9,633.9 L505.9,635.7 L505.9,637.5 L505.9,639.3 L505.9,641.1 L506.0,642.9 L506.0,644.7 L506.0,646.5 L506.0,648.3 L506.0,650.1 L506.1,651.9 L506.1,653.7 L506.1,655.5 L506.1,657.3 L506.1,659.1 L506.1,660.9 L506.2,662.7 L506.2,664.5 L506.2,666.3 L506.2,668.1 L506.2,669.9 L506.3,671.7 L506.3,673.5 L506.3,675.3 L506.3,677.1 L506.3,678.9 L506.3,680.7 L506.4,682.5 L506.4,684.3 L506.4,686.1 L506.4,687.9 L506.4,689.8 L506.5,691.6 L506.5,693.4 L506.5,695.2 L506.5,697.0 L506.5,698.8 L506.6,700.6 L506.6,702.4 L506.6,704.2 L506.6,706.0 L506.6,707.8 L506.7,709.6 L506.7,711.4 L506.7,713.2 L506.7,715.0 L506.7,716.8 L506.7,718.6 L506.8,720.4 L506.8,722.2 L506.8,724.0 L506.8,725.8 L506.8,727.6 L506.9,729.4 L506.9,731.2 L506.9,733.0 L506.9,734.8 L506.9,736.6 L507.0,738.4 L507.0,740.2 L507.0,742.0 L507.0,743.8 L507.0,745.6 L507.1,747.4 L507.1,749.2 L507.1,751.0 L507.1,752.8 L507.1,754.6 L507.2,756.5 L507.2,758.3 L507.2,760.1 L507.2,761.9 L507.2,763.7 L507.3,765.5 L507.3,767.3 L507.3,769.1 L507.3,770.9 L507.4,772.7 L507.4,774.5 L507.4,776.3 L507.4,778.1 L507.4,779.9 L507.5,781.7 L507.5,783.5 L507.5,785.3 L507.5,787.1 L507.5,788.9 L507.6,790.7 L507.6,792.5 L507.6,794.3 L507.6,796.1 L507.7,797.9 L507.7,799.7 L507.7,801.5 L507.7,803.3 L507.7,805.1 L507.8,806.9 L507.8,808.7 L507.8,810.5 L507.8,812.3 L507.9,814.1 L507.9,815.9 L507.9,817.7 L507.9,819.5 L508.0,821.3 L508.0,823.1 L508.0,825.0 L508.0,826.8 L508.0,828.6 L508.1,830.4 L508.1,832.2 L508.1,834.0 L508.1,835.8 L508.2,837.6 L508.2,839.4 L508.2,841.2 L508.2,843.0 L508.3,844.8 L508.3,846.6 L508.3,848.4 L508.3,850.2 L508.4,852.0 L508.4,853.8 L508.4,855.6 L508.4,857.4 L508.5,859.2 L508.5,861.0 L508.5,862.8 L508.5,864.6 L508.6,866.4 L508.6,868.2 L508.6,870.0 L508.6,871.8 L508.7,873.6 L508.7,875.4 L508.7,877.2 L508.8,879.0 L508.8,880.8 L508.8,882.6 L508.8,884.4 L508.9,886.2 L508.9,888.0 L508.9,889.8 L508.9,891.6 L509.0,893.5 L509.0,895.3 L509.0,897.1 L509.1,898.9 L509.1,900.7 L509.1,902.5 L509.1,904.3 L509.2,906.1 L509.2,907.9 L509.2,909.7 L509.3,911.5 L509.3,913.3 L509.3,915.1 L509.3,916.9 L509.4,918.7 L509.4,920.5 L509.4,922.3 L509.5,924.1 L509.5,925.9 L509.5,927.7 L509.6,929.5 L509.6,931.3 L509.6,933.1 L509.6,934.9 L509.7,936.7 L509.7,938.5 L509.7,940.3 L509.8,942.1 L509.8,943.9 L509.8,945.7 L509.9,947.5 L509.9,949.3 L509.9,951.1 L510.0,952.9 L510.0,954.7 L510.0,956.5 L510.1,958.3 L510.1,960.1 L510.1,961.9 L510.2,963.8 L510.2,965.6 L510.2,967.4 L510.3,969.2 L510.3,971.0 L510.3,972.8 L510.4,974.6 L510.4,976.4 L510.4,978.2 L510.5,980.0 L510.5,981.8 L510.5,983.6 L510.6,985.4 L510.6,987.2 L510.6,989.0 L510.7,990.8 L510.7,992.6 L510.8,994.4 L510.8,996.2 L510.8,998.0 L510.9,999.8 L510.9,1001.6 L510.9,1003.4 L511.0,1005.2 L511.0,1007.0 L511.1,1008.8 L511.1,1010.6 L511.1,1012.4 L511.2,1014.2 L511.2,1016.0 L511.2,1017.8 L511.3,1019.6 L511.3,1021.4 L511.4,1023.2 L511.4,1025.0 L511.4,1026.8 L511.5,1028.6 L511.5,1030.4 L511.6,1032.2 L511.6,1034.0 L511.6,1035.8 L511.7,1037.6 L511.7,1039.5 L511.8,1041.3 L511.8,1043.1 L511.8,1044.9 L511.9,1046.7 L511.9,1048.5 L512.0,1050.3 L512.0,1052.1 L512.1,1053.9 L512.1,1055.7 L512.1,1057.5 L512.2,1059.3 L512.2,1061.1 L512.3,1062.9 L512.3,1064.7 L512.4,1066.5 L512.4,1068.3 L512.4,1070.1 L512.5,1071.9 L512.5,1073.7 L512.6,1075.5 L512.6,1077.3 L512.7,1079.1 L512.7,1080.9 L512.8,1082.7 L512.8,1084.5 L512.9,1086.3 L512.9,1088.1 L513.0,1089.9 L513.0,1091.7 L513.0,1093.5 L513.1,1095.3 L513.1,1097.1 L513.2,1098.9 L513.2,1100.7 L513.3,1102.5 L513.3,1104.3 L513.4,1106.1 L513.4,1107.9 L513.5,1109.7 L513.5,1111.5 L513.6,1113.3 L513.6,1115.1 L513.7,1116.9 L513.7,1118.7 L513.8,1120.6 L513.8,1122.4 L513.9,1124.2 L513.9,1126.0 L514.0,1127.8 L514.0,1129.6 L514.1,1131.4 L514.1,1133.2 L514.2,1135.0 L514.3,1136.8 L514.3,1138.6 L514.4,1140.4 L514.4,1142.2 L514.5,1144.0 L514.5,1145.8 L514.6,1147.6 L514.6,1149.4 L514.7,1151.2 L514.7,1153.0 L514.8,1154.8 L514.9,1156.6 L514.9,1158.4 L515.0,1160.2 L515.0,1162.0 L515.1,1163.8 L515.1,1165.6 L515.2,1167.4 L515.2,1169.2 L515.3,1171.0 L515.4,1172.8 L515.4,1174.6 L515.5,1176.4 L515.5,1178.2 L515.6,1180.0 L515.7,1181.8 L515.7,1183.6 L515.8,1185.4 L515.8,1187.2 L515.9,1189.0 L516.0,1190.8 L516.0,1192.6 L516.1,1194.4 L516.1,1196.2 L516.2,1198.0 L516.3,1199.8 L516.3,1201.6 L516.4,1203.4 L516.5,1205.2 L516.5,1207.0 L516.6,1208.8 L516.6,1210.6 L516.7,1212.4 L516.8,1214.2 L516.8,1216.1 L516.9,1217.9 L517.0,1219.7 L517.0,1221.5 L517.1,1223.3 L517.2,1225.1 L517.2,1226.9 L517.3,1228.7 L517.4,1230.5 L517.4,1232.3 L517.5,1234.1 L517.6,1235.9 L517.6,1237.7 L517.7,1239.5 L517.8,1241.3 L517.8,1243.1 L517.9,1244.9 L518.0,1246.7 L518.1,1248.5 L518.1,1250.3 L518.2,1252.1 L518.3,1253.9 L518.3,1255.7 L518.4,1257.5 L518.5,1259.3 L518.5,1261.1 L518.6,1262.9 L518.7,1264.7 L518.8,1266.5 L518.8,1268.3 L518.9,1270.1 L519.0,1271.9 L519.1,1273.7 L519.2,1275.5 L519.2,1277.3 L519.3,1279.1 L519.4,1280.9 L519.5,1282.7 L519.6,1284.5 L519.7,1286.3 L519.8,1288.1 L519.9,1289.9 L520.0,1291.7 L520.1,1293.5 L520.2,1295.3 L520.4,1297.1 L520.5,1298.9 L520.6,1300.7 L520.8,1302.5 L520.9,1304.3 L521.0,1306.1 L521.2,1307.9 L521.4,1309.7 L521.5,1311.5 L521.7,1313.3 L521.9,1315.1 L522.0,1316.9 L522.2,1318.6 L522.4,1320.4 L522.6,1322.2 L522.8,1324.0 L523.1,1325.8 L523.3,1327.6 L523.5,1329.4 L523.7,1331.2 L524.0,1333.0 L524.2,1334.7 L524.5,1336.5 L524.8,1338.3 L525.1,1340.1 L525.4,1341.9 L525.7,1343.7 L526.0,1345.4 L526.3,1347.2 L526.6,1349.0 L526.9,1350.7 L527.3,1352.5 L527.6,1354.3 L528.0,1356.0 L528.4,1357.8 L528.8,1359.6 L529.2,1361.3 L529.6,1363.1 L530.0,1364.8 L530.4,1366.6 L530.9,1368.3 L531.4,1370.1 L531.9,1371.8 L532.5,1373.5 L533.1,1375.2 L533.7,1376.9 L534.4,1378.6 L535.1,1380.2 L535.9,1381.8 L536.7,1383.5 L537.6,1385.0 L538.5,1386.6 L539.5,1388.1 L540.6,1389.5 L541.7,1390.9 L542.9,1392.3 L544.2,1393.6 L545.5,1394.8 L546.9,1395.9 L548.4,1396.9 L549.9,1397.9 L551.4,1398.8 L553.0,1399.7 L554.7,1400.5 L556.3,1401.2 L558.0,1401.9 L559.7,1402.5 L561.4,1403.1 L563.1,1403.7 L564.8,1404.2 L566.5,1404.7 L568.3,1405.2 L570.0,1405.6 L571.8,1406.0 L573.5,1406.4 L575.3,1406.8 L577.1,1407.2 L578.8,1407.5 L580.6,1407.9 L582.4,1408.2 L584.2,1408.4 L585.9,1408.7 L587.7,1409.0 L589.5,1409.2 L591.3,1409.4 L593.1,1409.6 L594.9,1409.7 L596.7,1409.9 L598.5,1410.0 L600.3,1410.2 L602.1,1410.3 L603.9,1410.4 L605.7,1410.4 L607.5,1410.5 L609.3,1410.6 L611.1,1410.6 L612.9,1410.6 L614.7,1410.6 L616.5,1410.6 L618.3,1410.6 L620.1,1410.6 L621.9,1410.6 L623.7,1410.5 L625.5,1410.5 L627.3,1410.4 L629.1,1410.3 L630.9,1410.2 L632.7,1410.2 L634.5,1410.1 L636.3,1410.0 L638.1,1409.8 L639.9,1409.7 L641.7,1409.6 L643.5,1409.5 L645.3,1409.3 L647.1,1409.2 L648.9,1409.1 L650.7,1408.9 L652.5,1408.8 L654.3,1408.6 L656.1,1408.4 L657.9,1408.3 L659.7,1408.1 L661.5,1408.0 L663.3,1407.8 L665.1,1407.6 L666.9,1407.5 L668.7,1407.3 L670.5,1407.1 L672.2,1407.0 L674.0,1406.8 L675.8,1406.6 L677.6,1406.5 L679.4,1406.3 L681.2,1406.2 L683.0,1406.0 L684.8,1405.9 L686.6,1405.7 L688.4,1405.6 L690.2,1405.5 L692.0,1405.3 L693.8,1405.2 L695.6,1405.1 L697.4,1405.0 L699.2,1404.9 L701.0,1404.8 L702.8,1404.7 L704.6,1404.6 L706.4,1404.5 L708.2,1404.4 L710.0,1404.3 L711.8,1404.1 L713.6,1404.0 L715.4,1403.9 L717.2,1403.8 L719.0,1403.7 L720.8,1403.5 L722.6,1403.4 L724.4,1403.3 L726.2,1403.1 L728.0,1402.9 L729.8,1402.8 L731.6,1402.6 L733.4,1402.4 L735.2,1402.2 L736.9,1402.0 L738.7,1401.7 L740.5,1401.5 L742.3,1401.2 L744.1,1400.9 L745.9,1400.6 L747.6,1400.3 L749.4,1400.0 L751.2,1399.6 L752.9,1399.2 L754.7,1398.8 L756.4,1398.4 L758.2,1398.0 L759.9,1397.5 L761.7,1397.0 L763.4,1396.5 L765.1,1395.9 L766.8,1395.3 L768.5,1394.7 L770.2,1394.1 L771.9,1393.4 L773.5,1392.7 L775.2,1391.9 L776.8,1391.1 L778.4,1390.3 L780.0,1389.5 L781.6,1388.6 L783.1,1387.7 L784.6,1386.7 L786.1,1385.7 L787.6,1384.7 L789.1,1383.6 L790.5,1382.5 L791.9,1381.4 L793.3,1380.2 L794.6,1379.0 L795.9,1377.8 L797.2,1376.6 L798.5,1375.3 L799.8,1374.0 L801.0,1372.7 L802.2,1371.3 L803.4,1370.0 L804.6,1368.7 L805.8,1367.3 L807.0,1366.0 L808.2,1364.6 L809.4,1363.2 L810.6,1361.9 L811.7,1360.5 L812.9,1359.2 L814.1,1357.8 L815.3,1356.5 L816.5,1355.1 L817.8,1353.8 L819.0,1352.5 L820.3,1351.2 L821.6,1349.9 L822.9,1348.7 L824.2,1347.5 L825.5,1346.3 L826.9,1345.1 L828.3,1344.0 L829.8,1343.0 L831.3,1341.9 L832.8,1340.9 L834.3,1340.0 L835.9,1339.2 L837.5,1338.4 L839.2,1337.7 L840.9,1337.0 L842.6,1336.5 L844.3,1336.0 L846.1,1335.6 L847.9,1335.3 L849.7,1335.1 L851.5,1334.8 L853.2,1334.7 L855.0,1334.5 L856.8,1334.4 L858.6,1334.2 L860.4,1334.1 L862.2,1333.9 L864.0,1333.8 L865.8,1333.5 L867.6,1333.3 L869.4,1332.9 L871.1,1332.6 L872.9,1332.1 L874.6,1331.5 L876.3,1330.9 L877.9,1330.1 L879.5,1329.3 L881.1,1328.5 L882.7,1327.6 L884.3,1326.8 L886.0,1326.2 L887.7,1325.7 L889.5,1325.4 L891.3,1325.3 L893.1,1325.3 L894.9,1325.5 L896.7,1325.7 L898.5,1326.0 L900.2,1326.4 L902.0,1326.7 L903.8,1327.1 L905.5,1327.5 L907.3,1327.8 L909.1,1328.2 L910.9,1328.4 L912.6,1328.6 L914.4,1328.7 L916.3,1328.7 L918.0,1328.5 L919.8,1328.1 L921.5,1327.5 L923.1,1326.6 L924.6,1325.6 L925.9,1324.5 L927.2,1323.2 L928.4,1321.8 L929.6,1320.4 L930.6,1319.0 L931.7,1317.5 L932.7,1316.0 L933.6,1314.5 L934.6,1313.0 L935.5,1311.4 L936.4,1309.9 L937.3,1308.3 L938.2,1306.7 L939.0,1305.1 L939.8,1303.5 L940.6,1301.9 L941.4,1300.3 L942.2,1298.6 L942.9,1297.0 L943.6,1295.3 L944.3,1293.7 L945.0,1292.0 L945.7,1290.3 L946.3,1288.6 L946.9,1287.0 L947.6,1285.3 L948.2,1283.6 L948.8,1281.9 L949.3,1280.1 L949.9,1278.4 L950.4,1276.7 L951.0,1275.0 L951.5,1273.3 L952.0,1271.5 L952.5,1269.8 L953.0,1268.1 L953.4,1266.3 L953.9,1264.6 L954.4,1262.8 L954.8,1261.1 L955.3,1259.3 L955.7,1257.6 L956.1,1255.8 L956.6,1254.1 L957.0,1252.3 L957.4,1250.6 L957.8,1248.8 L958.2,1247.1 L958.6,1245.3 L959.0,1243.6 L959.4,1241.8 L959.8,1240.1 L960.2,1238.3 L960.6,1236.5 L961.1,1234.8 L961.5,1233.0 L961.9,1231.3 L962.3,1229.5 L962.7,1227.8 L963.2,1226.0 L963.6,1224.3 L964.0,1222.5 L964.5,1220.8 L964.9,1219.0 L965.4,1217.3 L965.9,1215.5 L966.4,1213.8 L966.8,1212.1 L967.4,1210.3 L967.9,1208.6 L968.4,1206.9 L968.9,1205.2 L969.5,1203.5 L970.1,1201.7 L970.6,1200.0 L971.2,1198.3 L971.8,1196.6 L972.5,1195.0 L973.1,1193.3 L973.8,1191.6 L974.4,1189.9 L975.1,1188.2 L975.8,1186.6 L976.6,1184.9 L977.3,1183.3 L978.2,1181.7 L979.2,1180.2 L980.5,1179.0 L982.2,1178.8 L983.8,1179.7 L985.1,1180.9 L986.2,1182.4 L987.1,1183.9 L987.9,1185.5 L988.5,1187.2 L989.0,1189.0 L989.4,1190.7 L989.8,1192.5 L990.0,1194.3 L990.3,1196.1 L990.5,1197.9 L990.7,1199.6 L990.9,1201.4 L991.1,1203.2 L991.3,1205.0 L991.6,1206.8 L991.8,1208.6 L992.1,1210.4 L992.3,1212.2 L992.6,1213.9 L992.9,1215.7 L993.2,1217.5 L993.5,1219.3 L993.8,1221.1 L994.1,1222.8 L994.4,1224.6 L994.7,1226.4 L995.0,1228.2 L995.3,1229.9 L995.6,1231.7 L996.0,1233.5 L996.3,1235.3 L996.6,1237.0 L996.9,1238.8 L997.2,1240.6 L997.5,1242.4 L997.8,1244.1 L998.1,1245.9 L998.3,1247.7 L998.6,1249.5 L998.9,1251.3 L999.2,1253.1 L999.4,1254.8 L999.7,1256.6 L999.9,1258.4 L1000.2,1260.2 L1000.4,1262.0 L1000.7,1263.8 L1000.9,1265.5 L1001.2,1267.3 L1001.4,1269.1 L1001.7,1270.9 L1001.9,1272.7 L1002.1,1274.5 L1002.4,1276.3 L1002.6,1278.1 L1002.8,1279.8 L1003.0,1281.6 L1003.3,1283.4 L1003.5,1285.2 L1003.7,1287.0 L1003.9,1288.8 L1004.2,1290.6 L1004.4,1292.4 L1004.6,1294.2 L1004.8,1295.9 L1005.1,1297.7 L1005.3,1299.5 L1005.5,1301.3 L1005.7,1303.1 L1006.0,1304.9 L1006.2,1306.7 L1006.4,1308.5 L1006.7,1310.3 L1006.9,1312.0 L1007.2,1313.8 L1007.4,1315.6 L1007.6,1317.4 L1007.9,1319.2 L1008.1,1321.0 L1008.4,1322.8 L1008.6,1324.5 L1008.9,1326.3 L1009.2,1328.1 L1009.4,1329.9 L1009.7,1331.7 L1010.0,1333.5 L1010.3,1335.2 L1010.6,1337.0 L1010.9,1338.8 L1011.2,1340.6 L1011.5,1342.3 L1011.8,1344.1 L1012.1,1345.9 L1012.5,1347.7 L1012.9,1349.4 L1013.2,1351.2 L1013.6,1352.9 L1014.0,1354.7 L1014.4,1356.5 L1014.8,1358.2 L1015.3,1360.0 L1015.7,1361.7 L1016.2,1363.4 L1016.7,1365.2 L1017.2,1366.9 L1017.7,1368.6 L1018.3,1370.3 L1018.9,1372.1 L1019.5,1373.8 L1020.1,1375.5 L1020.7,1377.1 L1021.4,1378.8 L1022.1,1380.5 L1022.8,1382.1 L1023.5,1383.8 L1024.3,1385.4 L1025.1,1387.0 L1026.0,1388.6 L1026.8,1390.2 L1027.7,1391.7 L1028.7,1393.3 L1029.7,1394.8 L1030.7,1396.3 L1031.7,1397.8 L1032.8,1399.2 L1033.9,1400.6 L1035.1,1402.0 L1036.3,1403.3 L1037.5,1404.6 L1038.8,1405.9 L1040.1,1407.1 L1041.5,1408.3 L1042.9,1409.4 L1044.3,1410.5 L1045.8,1411.6 L1047.3,1412.6 L1048.9,1413.5 L1050.4,1414.4 L1052.0,1415.2 L1053.7,1416.0 L1055.3,1416.7 L1057.0,1417.4 L1058.7,1418.0 L1060.4,1418.6 L1062.1,1419.1 L1063.9,1419.5 L1065.6,1419.9 L1067.4,1420.3 L1069.2,1420.6 L1070.9,1420.9 L1072.7,1421.1 L1074.5,1421.3 L1076.3,1421.4 L1078.0,1421.4" stroke="#ff0000" stroke-width="8.6"/>
</g>
<text transform="translate(214.8,1444.8) scale(0.955,1)" font-size="76.5" text-anchor="end">0.0</text>
<text transform="translate(214.8,1106.3) scale(0.955,1)" font-size="76.5" text-anchor="end">0.5</text>
<text transform="translate(214.8,767.9) scale(0.955,1)" font-size="76.5" text-anchor="end">1.0</text>
<text transform="translate(214.8,429.5) scale(0.955,1)" font-size="76.5" text-anchor="end">1.5</text>
<text transform="translate(214.8,91.0) scale(0.955,1)" font-size="76.5" text-anchor="end">2.0</text>
<text transform="translate(299.6,1522.5) scale(0.955,1)" font-size="76.5" text-anchor="middle">400</text>
<text transform="translate(521.2,1522.5) scale(0.955,1)" font-size="76.5" text-anchor="middle">500</text>
<text transform="translate(742.9,1522.5) scale(0.955,1)" font-size="76.5" text-anchor="middle">600</text>
<text transform="translate(964.5,1522.5) scale(0.955,1)" font-size="76.5" text-anchor="middle">700</text>
<text transform="translate(665.0,1617.5) scale(1.024,1)" font-size="71" text-anchor="middle">wavelength /nm</text>
<text transform="translate(85.0,780.6) rotate(-90) scale(1.02,1)" font-size="73.5" text-anchor="middle">Abs / a.u.</text>
<text transform="translate(356.0,165.0) scale(0.9,1)" font-size="67" text-anchor="middle">a</text>
</g>
<g id="panel-b">
<clipPath id="clipB"><rect x="1485.0" y="70.0" width="820.1999999999998" height="1356.3"/></clipPath>
<g clip-path="url(#clipB)">
<path class="cv" d="M1485.0,1380.3 L1486.4,1379.2 L1487.8,1378.0 L1489.2,1376.9 L1490.7,1375.8 L1492.1,1374.7 L1493.5,1373.6 L1494.9,1372.5 L1496.4,1371.3 L1497.8,1370.2 L1499.2,1369.1 L1500.6,1368.0 L1502.0,1366.8 L1503.4,1365.7 L1504.8,1364.5 L1506.2,1363.4 L1507.5,1362.2 L1508.9,1360.9 L1510.2,1359.7 L1511.5,1358.5 L1512.8,1357.2 L1514.1,1356.0 L1515.4,1354.7 L1516.7,1353.4 L1517.9,1352.1 L1519.2,1350.8 L1520.5,1349.6 L1521.8,1348.3 L1523.1,1347.0 L1524.3,1345.7 L1525.6,1344.5 L1526.9,1343.2 L1528.2,1341.9 L1529.5,1340.6 L1530.7,1339.3 L1532.0,1338.1 L1533.3,1336.8 L1534.6,1335.5 L1535.9,1334.2 L1537.2,1333.0 L1538.5,1331.8 L1539.9,1330.6 L1541.3,1329.5 L1542.7,1328.4 L1544.2,1327.3 L1545.6,1326.2 L1547.1,1325.2 L1548.7,1324.3 L1550.3,1323.4 L1551.9,1322.5 L1553.5,1321.7 L1555.1,1320.9 L1556.8,1320.3 L1558.6,1319.9 L1560.4,1320.0 L1562.1,1320.5 L1563.7,1321.2 L1565.2,1322.3 L1566.4,1323.7 L1567.3,1325.2 L1568.3,1326.7 L1569.2,1328.3 L1570.2,1329.8 L1571.1,1331.4 L1572.0,1332.9 L1572.9,1334.5 L1573.8,1336.1 L1574.7,1337.6 L1575.6,1339.2 L1576.5,1340.8 L1577.4,1342.4 L1578.3,1343.9 L1579.1,1345.5 L1580.0,1347.1 L1580.9,1348.7 L1581.8,1350.3 L1582.6,1351.8 L1583.5,1353.4 L1584.3,1355.0 L1585.1,1356.7 L1585.9,1358.3 L1586.7,1359.9 L1587.5,1361.5 L1588.3,1363.1 L1589.1,1364.8 L1589.9,1366.4 L1590.7,1368.0 L1591.5,1369.6 L1592.3,1371.2 L1593.2,1372.8 L1594.0,1374.4 L1594.8,1376.1 L1595.7,1377.7 L1596.5,1379.3 L1597.4,1380.9 L1598.2,1382.4 L1599.1,1384.0 L1600.0,1385.6 L1600.9,1387.1 L1601.9,1388.7 L1602.9,1390.2 L1603.9,1391.7 L1605.0,1393.1 L1606.1,1394.6 L1607.2,1396.0 L1608.3,1397.4 L1609.5,1398.8 L1610.8,1400.0 L1612.2,1401.2 L1613.7,1402.2 L1615.2,1403.2 L1616.7,1404.1 L1618.4,1405.0 L1620.0,1405.6 L1621.8,1406.2 L1623.5,1406.6 L1625.3,1407.0 L1627.1,1407.1 L1628.9,1407.1 L1630.7,1406.9 L1632.5,1406.5 L1634.2,1406.1 L1635.9,1405.5 L1637.6,1404.9 L1639.2,1404.1 L1640.8,1403.1 L1642.2,1402.1 L1643.7,1401.0 L1645.1,1399.8 L1646.5,1398.6 L1647.8,1397.4 L1649.1,1396.2 L1650.3,1394.8 L1651.5,1393.5 L1652.7,1392.1 L1653.8,1390.7 L1654.9,1389.3 L1656.0,1387.8 L1657.0,1386.3 L1658.0,1384.8 L1659.0,1383.3 L1660.0,1381.8 L1660.9,1380.2 L1661.8,1378.6 L1662.7,1377.1 L1663.5,1375.5 L1664.4,1373.9 L1665.3,1372.3 L1666.1,1370.7 L1667.0,1369.1 L1667.8,1367.5 L1668.7,1365.9 L1669.5,1364.3 L1670.3,1362.7 L1671.1,1361.1 L1671.9,1359.4 L1672.6,1357.8 L1673.4,1356.1 L1674.1,1354.5 L1674.8,1352.8 L1675.5,1351.2 L1676.2,1349.5 L1676.8,1347.8 L1677.5,1346.1 L1678.1,1344.4 L1678.7,1342.7 L1679.3,1341.0 L1679.9,1339.3 L1680.5,1337.6 L1681.1,1335.9 L1681.7,1334.2 L1682.2,1332.4 L1682.7,1330.7 L1683.1,1328.9 L1683.5,1327.2 L1683.8,1325.4 L1684.1,1323.6 L1684.4,1321.8 L1684.6,1320.0 L1684.9,1318.3 L1685.3,1316.5 L1685.7,1314.7 L1686.2,1313.0 L1686.7,1311.3 L1687.4,1309.6 L1688.1,1307.9 L1688.8,1306.3 L1689.6,1304.6 L1690.4,1303.0 L1691.2,1301.4 L1692.0,1299.8 L1692.9,1298.2 L1693.9,1296.6 L1694.8,1295.1 L1695.9,1293.7 L1697.0,1292.2 L1698.2,1290.8 L1699.4,1289.5 L1700.6,1288.2 L1701.8,1286.8 L1703.0,1285.5 L1704.1,1284.0 L1705.1,1282.6 L1706.1,1281.0 L1707.0,1279.5 L1707.9,1277.9 L1708.6,1276.2 L1709.3,1274.5 L1709.8,1272.8 L1710.4,1271.1 L1710.9,1269.4 L1711.3,1267.6 L1711.8,1265.9 L1712.1,1264.1 L1712.5,1262.3 L1712.8,1260.5 L1713.2,1258.8 L1713.5,1257.0 L1714.0,1255.2 L1714.5,1253.5 L1715.0,1251.8 L1715.5,1250.0 L1716.1,1248.3 L1716.7,1246.6 L1717.2,1244.9 L1717.8,1243.2 L1718.3,1241.5 L1718.9,1239.7 L1719.6,1238.1 L1720.3,1236.4 L1721.1,1234.8 L1721.9,1233.1 L1722.7,1231.5 L1723.6,1229.9 L1724.4,1228.3 L1725.2,1226.7 L1726.0,1225.1 L1726.7,1223.4 L1727.5,1221.8 L1728.2,1220.1 L1728.8,1218.4 L1729.4,1216.7 L1729.9,1215.0 L1730.4,1213.3 L1730.9,1211.5 L1731.3,1209.7 L1731.6,1208.0 L1731.9,1206.2 L1732.2,1204.4 L1732.5,1202.6 L1732.7,1200.8 L1733.0,1199.0 L1733.3,1197.3 L1733.7,1195.5 L1734.0,1193.7 L1734.3,1191.9 L1734.6,1190.1 L1734.9,1188.4 L1735.2,1186.6 L1735.4,1184.8 L1735.7,1183.0 L1735.9,1181.2 L1736.2,1179.4 L1736.4,1177.6 L1736.6,1175.8 L1736.9,1174.0 L1737.1,1172.2 L1737.3,1170.4 L1737.6,1168.7 L1737.9,1166.9 L1738.1,1165.1 L1738.5,1163.3 L1738.8,1161.5 L1739.3,1159.8 L1739.7,1158.0 L1740.2,1156.3 L1740.7,1154.6 L1741.4,1152.9 L1742.1,1151.2 L1742.9,1149.6 L1743.6,1147.9 L1744.4,1146.3 L1745.1,1144.6 L1745.8,1143.0 L1746.5,1141.3 L1747.1,1139.6 L1747.7,1137.9 L1748.1,1136.1 L1748.5,1134.3 L1748.7,1132.6 L1748.9,1130.8 L1749.1,1129.0 L1749.3,1127.2 L1749.6,1125.4 L1749.8,1123.6 L1750.2,1121.8 L1750.5,1120.0 L1750.8,1118.3 L1751.2,1116.5 L1751.5,1114.7 L1751.8,1112.9 L1752.1,1111.1 L1752.3,1109.3 L1752.5,1107.5 L1752.7,1105.7 L1752.8,1103.9 L1752.9,1102.1 L1753.0,1100.3 L1753.1,1098.5 L1753.1,1096.7 L1753.2,1094.9 L1753.3,1093.1 L1753.4,1091.3 L1753.5,1089.5 L1753.6,1087.7 L1753.7,1085.9 L1753.9,1084.1 L1754.1,1082.3 L1754.3,1080.5 L1754.5,1078.7 L1754.7,1076.9 L1754.9,1075.1 L1755.1,1073.3 L1755.2,1071.5 L1755.4,1069.7 L1755.5,1067.9 L1755.6,1066.1 L1755.7,1064.3 L1755.8,1062.5 L1755.9,1060.7 L1756.0,1058.9 L1756.1,1057.1 L1756.2,1055.3 L1756.3,1053.4 L1756.4,1051.6 L1756.5,1049.8 L1756.6,1048.0 L1756.7,1046.2 L1756.8,1044.4 L1756.9,1042.6 L1757.1,1040.8 L1757.2,1039.0 L1757.3,1037.2 L1757.5,1035.4 L1757.6,1033.6 L1757.8,1031.8 L1757.9,1030.0 L1757.9,1028.2 L1757.9,1026.4 L1758.0,1024.5 L1758.0,1022.7 L1758.1,1020.9 L1758.2,1019.1 L1758.3,1017.3 L1758.4,1015.5 L1758.5,1013.6 L1758.6,1011.8 L1758.8,1010.0 L1759.0,1008.2 L1759.3,1006.4 L1759.6,1004.6 L1760.1,1002.9 L1760.8,1001.2 L1762.2,1000.4 L1764.0,1000.9 L1765.7,1001.4 L1767.4,1002.1 L1769.1,1002.8 L1770.9,1002.7 L1772.3,1001.5 L1773.3,1000.1 L1774.2,998.5 L1775.0,996.8 L1775.6,995.1 L1776.1,993.4 L1776.5,991.6 L1776.8,989.8 L1777.1,988.0 L1777.3,986.2 L1777.5,984.4 L1777.7,982.6 L1777.9,980.8 L1778.0,979.0 L1778.2,977.1 L1778.3,975.3 L1778.5,973.5 L1778.6,971.7 L1778.8,969.9 L1778.9,968.1 L1779.0,966.3 L1779.1,964.5 L1779.3,962.6 L1779.4,960.8 L1779.5,959.0 L1779.6,957.2 L1779.7,955.4 L1779.8,953.6 L1779.9,951.7 L1780.0,949.9 L1780.2,948.1 L1780.3,946.3 L1780.4,944.5 L1780.5,942.7 L1780.6,940.9 L1780.7,939.0 L1780.8,937.2 L1780.9,935.4 L1781.0,933.6 L1781.2,931.8 L1781.3,930.0 L1781.4,928.2 L1781.5,926.3 L1781.7,924.5 L1781.8,922.7 L1781.9,920.9 L1782.1,919.1 L1782.2,917.3 L1782.4,915.5 L1782.6,913.7 L1782.7,911.8 L1782.9,910.0 L1783.1,908.2 L1783.3,906.4 L1783.5,904.6 L1783.7,902.8 L1783.9,901.0 L1784.2,899.2 L1785.2,899.2 L1786.0,900.9 L1786.6,902.6 L1787.3,904.3 L1787.9,906.0 L1788.6,907.7 L1789.1,909.4 L1789.6,911.2 L1790.0,913.0 L1790.6,914.7 L1791.3,916.3 L1792.9,917.0 L1794.6,916.5 L1796.3,915.7 L1797.6,914.5 L1798.5,912.9 L1799.1,911.2 L1799.6,909.4 L1800.0,907.7 L1800.3,905.9 L1800.5,904.1 L1800.7,902.3 L1800.9,900.4 L1801.0,898.6 L1801.2,896.8 L1801.3,895.0 L1801.4,893.2 L1801.6,891.4 L1801.8,889.6 L1802.0,887.8 L1802.2,886.0 L1802.4,884.2 L1802.7,882.4 L1803.0,880.6 L1803.2,878.8 L1803.5,877.0 L1803.8,875.2 L1804.1,873.4 L1804.3,871.6 L1804.6,869.8 L1804.9,868.0 L1805.2,866.2 L1805.4,864.4 L1805.7,862.6 L1806.0,860.8 L1806.2,859.0 L1806.5,857.2 L1806.8,855.4 L1807.1,853.6 L1807.3,851.8 L1807.6,850.0 L1807.8,848.2 L1807.9,846.4 L1808.1,844.6 L1808.2,842.8 L1808.4,841.0 L1808.5,839.2 L1808.7,837.4 L1808.8,835.6 L1809.0,833.8 L1809.1,832.0 L1809.2,830.2 L1809.4,828.5 L1809.5,826.7 L1809.7,824.9 L1809.8,823.1 L1809.9,821.3 L1810.1,819.5 L1810.2,817.7 L1810.3,815.9 L1810.4,814.1 L1810.6,812.3 L1810.7,810.5 L1810.8,808.7 L1810.9,806.9 L1811.0,805.1 L1811.2,803.3 L1811.3,801.5 L1811.4,799.7 L1811.5,797.9 L1811.6,796.1 L1811.7,794.3 L1811.8,792.5 L1811.9,790.7 L1812.0,788.9 L1812.1,787.1 L1812.2,785.3 L1812.3,783.5 L1812.3,781.7 L1812.4,779.9 L1812.5,778.1 L1812.6,776.3 L1812.8,774.5 L1813.0,772.7 L1813.2,770.9 L1813.4,769.1 L1813.7,767.4 L1814.0,765.6 L1814.4,763.8 L1814.7,762.1 L1815.2,760.3 L1815.6,758.6 L1816.1,756.8 L1816.6,755.1 L1817.1,753.4 L1817.6,751.6 L1818.1,749.9 L1818.7,748.2 L1819.2,746.5 L1819.7,744.7 L1820.2,743.0 L1820.7,741.3 L1821.1,739.5 L1821.5,737.8 L1821.9,736.0 L1822.1,734.2 L1822.4,732.4 L1822.6,730.6 L1822.8,728.9 L1822.9,727.1 L1823.1,725.3 L1823.2,723.5 L1823.3,721.7 L1823.3,719.9 L1823.4,718.1 L1823.5,716.3 L1823.6,714.5 L1823.7,712.7 L1823.9,710.9 L1824.0,709.1 L1824.1,707.3 L1824.2,705.5 L1824.3,703.7 L1824.4,701.9 L1824.5,700.1 L1824.7,698.3 L1824.8,696.5 L1824.9,694.7 L1825.0,692.9 L1825.0,691.1 L1825.1,689.3 L1825.2,687.5 L1825.3,685.7 L1825.4,683.9 L1825.5,682.1 L1825.6,680.3 L1825.7,678.5 L1825.8,676.7 L1825.9,674.9 L1826.0,673.1 L1826.0,671.3 L1826.1,669.5 L1826.2,667.7 L1826.3,665.9 L1826.4,664.1 L1826.5,662.3 L1826.6,660.5 L1826.7,658.7 L1826.9,656.9 L1827.1,655.1 L1827.2,653.3 L1827.4,651.5 L1827.6,649.7 L1827.9,647.9 L1828.1,646.2 L1828.2,644.4 L1828.4,642.6 L1828.5,640.8 L1828.7,639.0 L1828.8,637.2 L1828.9,635.4 L1829.0,633.6 L1829.0,631.8 L1829.1,630.0 L1829.2,628.2 L1829.3,626.4 L1829.3,624.6 L1829.4,622.8 L1829.5,621.0 L1829.5,619.2 L1829.6,617.4 L1829.7,615.6 L1829.7,613.8 L1829.8,612.0 L1829.9,610.2 L1829.9,608.4 L1830.0,606.6 L1830.1,604.8 L1830.1,603.0 L1830.2,601.2 L1830.3,599.4 L1830.4,597.6 L1830.5,595.8 L1830.6,594.0 L1830.7,592.2 L1830.8,590.4 L1830.8,588.6 L1830.9,586.8 L1831.0,585.0 L1831.1,583.2 L1831.2,581.4 L1831.3,579.6 L1831.4,577.8 L1831.5,576.0 L1831.6,574.2 L1831.7,572.4 L1831.8,570.6 L1831.9,568.8 L1832.0,567.0 L1832.1,565.2 L1832.2,563.4 L1832.2,561.6 L1832.3,559.8 L1832.4,558.0 L1832.4,556.2 L1832.5,554.4 L1832.6,552.6 L1832.6,550.8 L1832.7,549.0 L1832.8,547.2 L1832.8,545.4 L1832.9,543.6 L1832.9,541.8 L1833.0,540.0 L1833.0,538.2 L1833.1,536.4 L1833.2,534.6 L1833.2,532.8 L1833.3,531.0 L1833.3,529.2 L1833.4,527.4 L1833.4,525.6 L1833.5,523.8 L1833.5,522.0 L1833.6,520.2 L1833.6,518.4 L1833.7,516.6 L1833.7,514.8 L1833.8,513.0 L1833.8,511.2 L1833.8,509.4 L1833.9,507.6 L1833.9,505.8 L1834.0,504.0 L1834.0,502.2 L1834.1,500.4 L1834.1,498.6 L1834.2,496.8 L1834.2,495.0 L1834.3,493.2 L1834.3,491.4 L1834.4,489.6 L1834.4,487.8 L1834.5,486.0 L1834.5,484.2 L1834.6,482.3 L1834.6,480.5 L1834.7,478.7 L1834.7,476.9 L1834.8,475.1 L1834.8,473.3 L1834.8,471.5 L1834.9,469.7 L1834.9,467.9 L1835.0,466.1 L1835.0,464.3 L1835.1,462.5 L1835.1,460.7 L1835.2,458.9 L1835.2,457.1 L1835.2,455.3 L1835.3,453.5 L1835.3,451.7 L1835.4,449.9 L1835.4,448.1 L1835.5,446.3 L1835.5,444.5 L1835.6,442.7 L1835.6,440.9 L1835.6,439.1 L1835.7,437.3 L1835.7,435.5 L1835.8,433.7 L1835.8,431.9 L1835.9,430.1 L1835.9,428.3 L1836.0,426.5 L1836.0,424.7 L1836.1,422.9 L1836.1,421.1 L1836.2,419.3 L1836.2,417.5 L1836.3,415.7 L1836.3,413.9 L1836.4,412.1 L1836.4,410.3 L1836.5,408.5 L1836.5,406.7 L1836.6,404.9 L1836.6,403.1 L1836.7,401.3 L1836.7,399.5 L1836.8,397.7 L1836.9,395.9 L1836.9,394.1 L1837.0,392.3 L1837.0,390.5 L1837.1,388.7 L1837.1,386.9 L1837.2,385.1 L1837.3,383.3 L1837.3,381.5 L1837.4,379.7 L1837.4,377.9 L1837.5,376.1 L1837.5,374.3 L1837.6,372.5 L1837.7,370.7 L1837.7,368.9 L1837.8,367.1 L1837.8,365.3 L1837.9,363.5 L1837.9,361.7 L1838.0,359.9 L1838.1,358.1 L1838.1,356.3 L1838.2,354.5 L1838.2,352.7 L1838.3,350.9 L1838.3,349.1 L1838.4,347.3 L1838.4,345.5 L1838.5,343.7 L1838.5,341.9 L1838.6,340.1 L1838.6,338.3 L1838.7,336.5 L1838.7,334.7 L1838.8,332.9 L1838.8,331.1 L1838.9,329.3 L1838.9,327.5 L1839.0,325.7 L1839.0,323.9 L1839.0,322.1 L1839.1,320.3 L1839.1,318.5 L1839.2,316.7 L1839.2,314.9 L1839.3,313.1 L1839.3,311.3 L1839.3,309.5 L1839.4,307.6 L1839.4,305.8 L1839.5,304.0 L1839.5,302.2 L1839.6,300.4 L1839.6,298.6 L1839.7,296.8 L1839.7,295.0 L1839.8,293.2 L1839.8,291.4 L1839.8,289.6 L1839.9,287.8 L1839.9,286.0 L1840.0,284.2 L1840.0,282.4 L1840.1,280.6 L1840.1,278.8 L1840.2,277.0 L1840.2,275.2 L1840.3,273.4 L1840.3,271.6 L1840.4,269.8 L1840.4,268.0 L1840.5,266.2 L1840.5,264.4 L1840.6,262.6 L1840.6,260.8 L1840.7,259.0 L1840.7,257.2 L1840.8,255.4 L1840.9,253.6 L1840.9,251.8 L1841.0,250.0 L1841.0,248.2 L1841.1,246.4 L1841.1,244.6 L1841.2,242.8 L1841.2,241.0 L1841.3,239.2 L1841.4,237.4 L1841.4,235.6 L1841.5,233.8 L1841.5,232.0 L1841.6,230.2 L1841.7,228.4 L1841.7,226.6 L1841.8,224.8 L1841.9,223.0 L1842.0,221.2 L1842.0,219.4 L1842.1,217.6 L1842.2,215.8 L1842.2,214.0 L1842.2,212.2 L1842.3,210.4 L1842.3,208.6 L1842.3,206.8 L1842.3,205.0 L1842.4,203.2 L1842.4,201.4 L1842.4,199.6 L1842.4,197.8 L1842.5,196.0 L1842.5,194.2 L1842.6,192.4 L1842.6,190.6 L1842.7,188.8 L1842.8,187.0 L1842.9,185.2 L1843.0,183.4 L1843.1,181.6 L1843.2,179.8 L1843.3,178.0 L1843.4,176.2 L1843.5,174.4 L1843.6,172.6 L1843.7,170.8 L1843.8,169.0 L1843.9,167.2 L1844.0,165.4 L1844.1,163.6 L1844.2,161.8 L1844.2,160.0 L1844.3,158.2 L1844.4,156.4 L1844.5,154.6 L1844.5,152.8 L1844.6,151.0 L1844.7,149.2 L1844.7,147.4 L1844.8,145.6 L1844.8,143.8 L1844.9,142.0 L1845.0,140.2 L1845.1,138.4 L1845.2,136.6 L1845.3,134.8 L1845.5,133.0 L1845.7,131.2 L1845.9,129.4 L1846.2,127.7 L1846.5,125.9 L1846.8,124.1 L1847.1,122.3 L1847.5,120.6 L1847.8,118.8 L1848.2,117.0 L1848.6,115.3 L1849.1,113.5 L1849.6,111.8 L1850.1,110.1 L1850.7,108.4 L1851.4,106.7 L1852.2,105.1 L1853.0,103.5 L1853.8,101.9 L1854.7,100.3 L1855.6,98.8 L1856.7,97.3 L1857.8,95.9 L1859.4,95.5 L1860.6,96.9 L1861.5,98.4 L1862.2,100.1 L1862.9,101.8 L1863.4,103.5 L1863.8,105.2 L1864.2,107.0 L1864.5,108.8 L1864.8,110.5 L1865.1,112.3 L1865.4,114.1 L1865.6,115.9 L1865.8,117.7 L1866.0,119.5 L1866.2,121.3 L1866.4,123.1 L1866.5,124.8 L1866.7,126.6 L1866.8,128.4 L1866.9,130.2 L1867.1,132.0 L1867.2,133.8 L1867.3,135.6 L1867.4,137.4 L1867.5,139.2 L1867.6,141.0 L1867.7,142.8 L1867.8,144.6 L1867.8,146.4 L1867.9,148.2 L1868.0,150.0 L1868.1,151.8 L1868.2,153.6 L1868.2,155.4 L1868.3,157.2 L1868.4,159.0 L1868.5,160.8 L1868.6,162.6 L1868.7,164.4 L1868.8,166.2 L1868.9,168.0 L1869.0,169.8 L1869.1,171.6 L1869.2,173.4 L1869.3,175.2 L1869.4,177.0 L1869.4,178.8 L1869.5,180.6 L1869.6,182.4 L1869.7,184.2 L1869.8,186.0 L1869.9,187.8 L1870.0,189.6 L1870.1,191.4 L1870.2,193.2 L1870.3,195.0 L1870.5,196.8 L1870.6,198.6 L1870.8,200.4 L1871.0,202.2 L1871.2,204.0 L1871.4,205.8 L1871.7,207.5 L1871.9,209.3 L1872.2,211.1 L1872.4,212.9 L1872.7,214.7 L1872.9,216.5 L1873.1,218.3 L1873.3,220.1 L1873.5,221.8 L1873.7,223.6 L1873.8,225.4 L1874.0,227.2 L1874.2,229.0 L1874.4,230.8 L1874.6,232.6 L1874.7,234.4 L1874.9,236.2 L1875.1,238.0 L1875.2,239.8 L1875.4,241.6 L1875.5,243.4 L1875.7,245.2 L1875.8,247.0 L1876.0,248.8 L1876.1,250.5 L1876.3,252.3 L1876.4,254.1 L1876.6,255.9 L1876.8,257.7 L1876.9,259.5 L1877.1,261.3 L1877.3,263.1 L1877.4,264.9 L1877.6,266.7 L1877.8,268.5 L1878.0,270.3 L1878.2,272.1 L1878.3,273.9 L1878.5,275.7 L1878.7,277.5 L1878.9,279.2 L1879.0,281.0 L1879.2,282.8 L1879.4,284.6 L1879.6,286.4 L1879.7,288.2 L1879.9,290.0 L1880.0,291.8 L1880.2,293.6 L1880.3,295.4 L1880.5,297.2 L1880.6,299.0 L1880.7,300.8 L1880.8,302.6 L1881.0,304.4 L1881.1,306.2 L1881.2,308.0 L1881.3,309.8 L1881.4,311.6 L1881.5,313.4 L1881.6,315.2 L1881.7,317.0 L1881.8,318.8 L1881.9,320.6 L1882.1,322.4 L1882.2,324.2 L1882.3,326.0 L1882.4,327.8 L1882.5,329.6 L1882.7,331.4 L1882.8,333.2 L1882.9,334.9 L1883.1,336.7 L1883.2,338.5 L1883.4,340.3 L1883.5,342.1 L1883.7,343.9 L1883.8,345.7 L1884.0,347.5 L1884.2,349.3 L1884.4,351.1 L1884.5,352.9 L1884.7,354.7 L1884.9,356.5 L1885.1,358.3 L1885.3,360.1 L1885.5,361.9 L1885.6,363.6 L1885.8,365.4 L1886.0,367.2 L1886.2,369.0 L1886.4,370.8 L1886.6,372.6 L1886.8,374.4 L1886.9,376.2 L1887.1,378.0 L1887.3,379.8 L1887.5,381.6 L1887.7,383.4 L1887.8,385.2 L1888.0,386.9 L1888.2,388.7 L1888.4,390.5 L1888.6,392.3 L1888.7,394.1 L1888.9,395.9 L1889.1,397.7 L1889.3,399.5 L1889.5,401.3 L1889.6,403.1 L1889.8,404.9 L1890.0,406.7 L1890.2,408.5 L1890.4,410.3 L1890.5,412.0 L1890.7,413.8 L1890.9,415.6 L1891.1,417.4 L1891.3,419.2 L1891.4,421.0 L1891.6,422.8 L1891.8,424.6 L1892.0,426.4 L1892.1,428.2 L1892.3,430.0 L1892.5,431.8 L1892.6,433.6 L1892.8,435.4 L1893.0,437.2 L1893.1,438.9 L1893.3,440.7 L1893.4,442.5 L1893.6,444.3 L1893.8,446.1 L1893.9,447.9 L1894.1,449.7 L1894.2,451.5 L1894.4,453.3 L1894.5,455.1 L1894.7,456.9 L1894.9,458.7 L1895.0,460.5 L1895.2,462.3 L1895.3,464.1 L1895.5,465.9 L1895.6,467.7 L1895.8,469.5 L1895.9,471.3 L1896.1,473.1 L1896.2,474.8 L1896.4,476.6 L1896.5,478.4 L1896.6,480.2 L1896.8,482.0 L1896.9,483.8 L1897.1,485.6 L1897.2,487.4 L1897.4,489.2 L1897.5,491.0 L1897.6,492.8 L1897.8,494.6 L1897.9,496.4 L1898.0,498.2 L1898.2,500.0 L1898.3,501.8 L1898.4,503.6 L1898.6,505.4 L1898.7,507.2 L1898.8,509.0 L1898.9,510.8 L1899.1,512.6 L1899.2,514.4 L1899.3,516.2 L1899.4,518.0 L1899.6,519.8 L1899.7,521.6 L1899.8,523.4 L1899.9,525.2 L1900.0,527.0 L1900.2,528.8 L1900.3,530.6 L1900.4,532.3 L1900.5,534.1 L1900.6,535.9 L1900.8,537.7 L1900.9,539.5 L1901.0,541.3 L1901.1,543.1 L1901.2,544.9 L1901.3,546.7 L1901.5,548.5 L1901.6,550.3 L1901.7,552.1 L1901.8,553.9 L1901.9,555.7 L1902.0,557.5 L1902.2,559.3 L1902.3,561.1 L1902.4,562.9 L1902.5,564.7 L1902.6,566.5 L1902.7,568.3 L1902.8,570.1 L1902.9,571.9 L1903.0,573.7 L1903.1,575.5 L1903.2,577.3 L1903.3,579.1 L1903.5,580.9 L1903.6,582.7 L1903.7,584.5 L1903.8,586.3 L1903.9,588.1 L1904.0,589.9 L1904.1,591.7 L1904.2,593.5 L1904.3,595.3 L1904.5,597.1 L1904.6,598.9 L1904.7,600.7 L1904.8,602.5 L1904.9,604.3 L1905.1,606.1 L1905.2,607.9 L1905.3,609.7 L1905.5,611.5 L1905.6,613.3 L1905.8,615.1 L1905.9,616.8 L1906.1,618.6 L1906.3,620.4 L1906.4,622.2 L1906.6,624.0 L1906.8,625.8 L1907.0,627.6 L1907.1,629.4 L1907.3,631.2 L1907.5,633.0 L1907.6,634.8 L1907.8,636.6 L1908.0,638.4 L1908.1,640.2 L1908.3,642.0 L1908.4,643.8 L1908.5,645.6 L1908.7,647.4 L1908.8,649.1 L1909.0,650.9 L1909.1,652.7 L1909.2,654.5 L1909.4,656.3 L1909.5,658.1 L1909.6,659.9 L1909.7,661.7 L1909.9,663.5 L1910.0,665.3 L1910.1,667.1 L1910.3,668.9 L1910.4,670.7 L1910.5,672.5 L1910.7,674.3 L1910.8,676.1 L1911.0,677.9 L1911.1,679.7 L1911.3,681.5 L1911.4,683.3 L1911.6,685.1 L1911.7,686.9 L1911.9,688.7 L1912.0,690.5 L1912.2,692.3 L1912.3,694.1 L1912.5,695.8 L1912.7,697.6 L1912.8,699.4 L1913.0,701.2 L1913.1,703.0 L1913.3,704.8 L1913.5,706.6 L1913.6,708.4 L1913.8,710.2 L1913.9,712.0 L1914.1,713.8 L1914.2,715.6 L1914.4,717.4 L1914.5,719.2 L1914.6,721.0 L1914.8,722.8 L1914.9,724.6 L1915.0,726.4 L1915.2,728.2 L1915.3,730.0 L1915.4,731.8 L1915.6,733.6 L1915.7,735.4 L1915.8,737.2 L1915.9,738.9 L1916.1,740.7 L1916.2,742.5 L1916.3,744.3 L1916.5,746.1 L1916.6,747.9 L1916.8,749.7 L1916.9,751.5 L1917.1,753.3 L1917.2,755.1 L1917.4,756.9 L1917.5,758.7 L1917.7,760.5 L1917.9,762.3 L1918.1,764.1 L1918.2,765.9 L1918.4,767.7 L1918.6,769.5 L1918.8,771.3 L1919.0,773.0 L1919.2,774.8 L1919.4,776.6 L1919.6,778.4 L1919.7,780.2 L1919.9,782.0 L1920.1,783.8 L1920.3,785.6 L1920.5,787.4 L1920.6,789.2 L1920.8,791.0 L1921.0,792.8 L1921.1,794.6 L1921.3,796.4 L1921.5,798.1 L1921.6,799.9 L1921.8,801.7 L1921.9,803.5 L1922.1,805.3 L1922.2,807.1 L1922.4,808.9 L1922.5,810.7 L1922.7,812.5 L1922.8,814.3 L1923.0,816.1 L1923.1,817.9 L1923.2,819.7 L1923.4,821.5 L1923.5,823.3 L1923.7,825.1 L1923.8,826.9 L1923.9,828.7 L1924.1,830.5 L1924.2,832.3 L1924.4,834.1 L1924.5,835.9 L1924.6,837.7 L1924.8,839.5 L1924.9,841.3 L1925.0,843.0 L1925.1,844.8 L1925.3,846.6 L1925.4,848.4 L1925.5,850.2 L1925.6,852.0 L1925.8,853.8 L1925.9,855.6 L1926.0,857.4 L1926.1,859.2 L1926.2,861.0 L1926.3,862.8 L1926.4,864.6 L1926.5,866.4 L1926.6,868.2 L1926.7,870.0 L1926.8,871.8 L1926.9,873.6 L1927.0,875.4 L1927.1,877.2 L1927.3,879.0 L1927.4,880.8 L1927.5,882.6 L1927.6,884.4 L1927.7,886.2 L1927.9,888.0 L1928.0,889.8 L1928.2,891.6 L1928.3,893.4 L1928.5,895.2 L1928.6,897.0 L1928.8,898.8 L1929.0,900.6 L1929.1,902.4 L1929.3,904.2 L1929.5,905.9 L1929.7,907.7 L1929.8,909.5 L1930.0,911.3 L1930.2,913.1 L1930.4,914.9 L1930.6,916.7 L1930.8,918.5 L1931.0,920.3 L1931.2,922.1 L1931.4,923.9 L1931.6,925.7 L1931.8,927.4 L1932.0,929.2 L1932.2,931.0 L1932.4,932.8 L1932.6,934.6 L1932.8,936.4 L1933.1,938.2 L1933.3,940.0 L1933.5,941.8 L1933.7,943.5 L1934.0,945.3 L1934.2,947.1 L1934.4,948.9 L1934.7,950.7 L1934.9,952.5 L1935.1,954.3 L1935.4,956.0 L1935.6,957.8 L1935.8,959.6 L1936.0,961.4 L1936.3,963.2 L1936.5,965.0 L1936.7,966.8 L1936.9,968.6 L1937.2,970.3 L1937.4,972.1 L1937.6,973.9 L1937.8,975.7 L1938.0,977.5 L1938.3,979.3 L1938.5,981.1 L1938.7,982.9 L1938.9,984.7 L1939.1,986.4 L1939.4,988.2 L1939.6,990.0 L1939.8,991.8 L1940.0,993.6 L1940.3,995.4 L1940.5,997.2 L1940.7,999.0 L1941.0,1000.7 L1941.2,1002.5 L1941.5,1004.3 L1941.7,1006.1 L1942.0,1007.9 L1942.3,1009.7 L1942.5,1011.4 L1942.8,1013.2 L1943.1,1015.0 L1943.4,1016.8 L1943.6,1018.6 L1943.9,1020.3 L1944.2,1022.1 L1944.5,1023.9 L1944.8,1025.7 L1945.1,1027.4 L1945.4,1029.2 L1945.7,1031.0 L1946.0,1032.8 L1946.3,1034.6 L1946.6,1036.3 L1946.9,1038.1 L1947.2,1039.9 L1947.5,1041.7 L1947.8,1043.4 L1948.1,1045.2 L1948.4,1047.0 L1948.7,1048.8 L1949.0,1050.5 L1949.3,1052.3 L1949.6,1054.1 L1949.9,1055.9 L1950.2,1057.7 L1950.5,1059.4 L1950.8,1061.2 L1951.1,1063.0 L1951.4,1064.8 L1951.7,1066.5 L1952.0,1068.3 L1952.3,1070.1 L1952.6,1071.9 L1952.9,1073.6 L1953.2,1075.4 L1953.5,1077.2 L1953.9,1079.0 L1954.2,1080.7 L1954.5,1082.5 L1954.8,1084.3 L1955.1,1086.1 L1955.4,1087.8 L1955.7,1089.6 L1956.0,1091.4 L1956.3,1093.2 L1956.7,1094.9 L1957.0,1096.7 L1957.3,1098.5 L1957.6,1100.3 L1957.9,1102.0 L1958.2,1103.8 L1958.5,1105.6 L1958.8,1107.4 L1959.1,1109.1 L1959.4,1110.9 L1959.7,1112.7 L1960.0,1114.5 L1960.3,1116.2 L1960.7,1118.0 L1961.0,1119.8 L1961.3,1121.6 L1961.6,1123.3 L1961.9,1125.1 L1962.2,1126.9 L1962.5,1128.7 L1962.9,1130.4 L1963.2,1132.2 L1963.5,1134.0 L1963.9,1135.7 L1964.2,1137.5 L1964.5,1139.3 L1964.9,1141.0 L1965.2,1142.8 L1965.6,1144.6 L1965.9,1146.4 L1966.2,1148.1 L1966.6,1149.9 L1966.9,1151.7 L1967.3,1153.4 L1967.6,1155.2 L1967.9,1157.0 L1968.3,1158.7 L1968.6,1160.5 L1968.9,1162.3 L1969.3,1164.1 L1969.6,1165.8 L1969.9,1167.6 L1970.3,1169.4 L1970.6,1171.1 L1971.0,1172.9 L1971.3,1174.7 L1971.7,1176.4 L1972.0,1178.2 L1972.4,1180.0 L1972.8,1181.7 L1973.2,1183.5 L1973.6,1185.2 L1973.9,1187.0 L1974.3,1188.8 L1974.7,1190.5 L1975.1,1192.3 L1975.5,1194.0 L1976.0,1195.8 L1976.4,1197.5 L1976.8,1199.3 L1977.2,1201.0 L1977.7,1202.8 L1978.1,1204.5 L1978.5,1206.3 L1979.0,1208.0 L1979.5,1209.8 L1979.9,1211.5 L1980.4,1213.2 L1980.9,1215.0 L1981.4,1216.7 L1981.9,1218.4 L1982.4,1220.2 L1982.9,1221.9 L1983.4,1223.6 L1983.9,1225.4 L1984.4,1227.1 L1985.0,1228.8 L1985.5,1230.5 L1986.1,1232.2 L1986.6,1233.9 L1987.2,1235.7 L1987.7,1237.4 L1988.3,1239.1 L1988.9,1240.8 L1989.4,1242.5 L1990.0,1244.2 L1990.6,1245.9 L1991.2,1247.6 L1991.8,1249.3 L1992.4,1251.0 L1993.0,1252.7 L1993.6,1254.4 L1994.2,1256.1 L1994.9,1257.8 L1995.5,1259.5 L1996.2,1261.1 L1996.8,1262.8 L1997.5,1264.5 L1998.2,1266.2 L1998.9,1267.8 L1999.6,1269.5 L2000.3,1271.1 L2001.1,1272.8 L2001.8,1274.4 L2002.6,1276.0 L2003.4,1277.6 L2004.2,1279.3 L2005.0,1280.9 L2005.8,1282.5 L2006.7,1284.1 L2007.5,1285.7 L2008.3,1287.3 L2009.2,1288.8 L2010.0,1290.4 L2010.9,1292.0 L2011.8,1293.6 L2012.7,1295.2 L2013.5,1296.7 L2014.4,1298.3 L2015.3,1299.9 L2016.3,1301.4 L2017.2,1302.9 L2018.1,1304.5 L2019.1,1306.0 L2020.0,1307.6 L2021.0,1309.1 L2021.9,1310.6 L2022.9,1312.1 L2023.9,1313.6 L2024.9,1315.1 L2025.9,1316.6 L2026.9,1318.1 L2027.9,1319.6 L2028.9,1321.1 L2029.9,1322.6 L2030.9,1324.1 L2031.9,1325.6 L2033.0,1327.1 L2034.0,1328.6 L2035.0,1330.0 L2036.1,1331.5 L2037.1,1332.9 L2038.2,1334.4 L2039.3,1335.8 L2040.5,1337.2 L2041.6,1338.6 L2042.8,1339.9 L2044.0,1341.3 L2045.3,1342.6 L2046.5,1343.8 L2047.8,1345.1 L2049.2,1346.3 L2050.5,1347.5 L2051.9,1348.7 L2053.2,1349.9 L2054.6,1351.0 L2056.1,1352.1 L2057.5,1353.2 L2058.9,1354.3 L2060.4,1355.4 L2061.8,1356.5 L2063.3,1357.5 L2064.7,1358.5 L2066.2,1359.6 L2067.7,1360.6 L2069.2,1361.6 L2070.7,1362.6 L2072.2,1363.5 L2073.8,1364.5 L2075.3,1365.4 L2076.9,1366.3 L2078.4,1367.2 L2080.0,1368.1 L2081.6,1369.0 L2083.1,1369.9 L2084.7,1370.8 L2086.3,1371.6 L2087.9,1372.5 L2089.5,1373.3 L2091.1,1374.2 L2092.7,1375.0 L2094.3,1375.8 L2095.9,1376.6 L2097.5,1377.4 L2099.1,1378.2 L2100.7,1379.0 L2102.4,1379.8 L2104.0,1380.5 L2105.6,1381.3 L2107.2,1382.1 L2108.9,1382.9 L2110.5,1383.6 L2112.1,1384.4 L2113.8,1385.1 L2115.4,1385.9 L2117.1,1386.6 L2118.7,1387.4 L2120.3,1388.1 L2122.0,1388.8 L2123.7,1389.5 L2125.3,1390.2 L2127.0,1390.8 L2128.7,1391.5 L2130.4,1392.1 L2132.1,1392.7 L2133.8,1393.4 L2135.5,1394.0 L2137.2,1394.6 L2138.9,1395.1 L2140.6,1395.7 L2142.3,1396.2 L2144.0,1396.8 L2145.7,1397.3 L2147.5,1397.8 L2149.2,1398.3 L2151.0,1398.7 L2152.7,1399.2 L2154.4,1399.7 L2156.2,1400.1 L2157.9,1400.5 L2159.7,1400.9 L2161.5,1401.3 L2163.2,1401.7 L2165.0,1402.0 L2166.8,1402.3 L2168.5,1402.6 L2170.3,1402.9 L2172.1,1403.2 L2173.9,1403.4 L2175.7,1403.7 L2177.5,1403.9 L2179.2,1404.1 L2181.0,1404.4 L2182.8,1404.6 L2184.6,1404.9 L2186.4,1405.1 L2188.2,1405.4 L2189.9,1405.6 L2191.7,1405.9 L2193.5,1406.1 L2195.3,1406.4 L2197.1,1406.6 L2198.9,1406.8 L2200.7,1407.1 L2202.4,1407.3 L2204.2,1407.5 L2206.0,1407.8 L2207.8,1408.0 L2209.6,1408.2 L2211.4,1408.5 L2213.2,1408.7 L2215.0,1408.9 L2216.7,1409.1 L2218.5,1409.3 L2220.3,1409.5 L2222.1,1409.7 L2223.9,1409.9 L2225.7,1410.1 L2227.5,1410.3 L2229.3,1410.5 L2231.1,1410.7 L2232.9,1410.9 L2234.6,1411.1 L2236.4,1411.3 L2238.2,1411.5 L2240.0,1411.7 L2241.8,1411.9 L2243.6,1412.1 L2245.4,1412.3 L2247.2,1412.5 L2249.0,1412.6 L2250.8,1412.8 L2252.6,1413.0 L2254.4,1413.2 L2256.2,1413.4 L2257.9,1413.5 L2259.7,1413.7 L2261.5,1413.9 L2263.3,1414.1 L2265.1,1414.2 L2266.9,1414.4 L2268.7,1414.6 L2270.5,1414.7 L2272.3,1414.9 L2274.1,1415.1 L2275.9,1415.2 L2277.7,1415.4 L2279.5,1415.6 L2281.3,1415.7 L2283.1,1415.9 L2284.9,1416.1 L2286.6,1416.2 L2288.4,1416.4 L2290.2,1416.6 L2292.0,1416.8 L2293.8,1416.9 L2295.6,1417.1 L2297.4,1417.3 L2299.2,1417.4 L2301.0,1417.5 L2302.8,1417.7 L2304.6,1417.8 L2306.4,1417.9 L2308.2,1417.9 L2310.0,1418.0" stroke="#ff0000" stroke-width="8.6"/>
<path class="cv" d="M1485.0,1400.3 L1486.8,1400.3 L1488.6,1400.3 L1490.5,1400.3 L1492.3,1400.3 L1494.1,1400.3 L1495.9,1400.3 L1497.7,1400.4 L1499.5,1400.4 L1501.4,1400.4 L1503.2,1400.4 L1505.0,1400.4 L1506.8,1400.4 L1508.6,1400.3 L1510.4,1400.1 L1512.2,1399.8 L1514.0,1399.5 L1515.8,1399.1 L1517.5,1398.6 L1519.3,1398.1 L1520.9,1397.3 L1522.5,1396.4 L1524.0,1395.5 L1525.6,1394.6 L1527.3,1393.9 L1529.1,1393.4 L1530.9,1393.1 L1532.6,1392.8 L1534.4,1392.6 L1536.2,1392.4 L1538.1,1392.1 L1539.9,1391.9 L1541.6,1391.6 L1543.4,1391.3 L1545.2,1391.0 L1547.0,1390.7 L1548.8,1390.4 L1550.6,1390.0 L1552.3,1389.5 L1554.1,1389.0 L1555.8,1388.4 L1557.6,1388.0 L1559.4,1387.9 L1561.2,1388.0 L1563.0,1388.3 L1564.7,1388.8 L1566.5,1389.3 L1568.2,1389.9 L1569.9,1390.5 L1571.6,1391.2 L1573.2,1392.0 L1574.8,1392.8 L1576.4,1393.7 L1578.0,1394.6 L1579.5,1395.6 L1581.0,1396.6 L1582.5,1397.7 L1583.9,1398.8 L1585.4,1399.9 L1586.8,1401.1 L1588.2,1402.2 L1589.6,1403.3 L1591.0,1404.5 L1592.4,1405.7 L1593.8,1406.8 L1595.2,1407.9 L1596.7,1409.0 L1598.2,1410.1 L1599.7,1411.1 L1601.2,1412.1 L1602.8,1413.0 L1604.4,1413.9 L1606.0,1414.6 L1607.8,1415.2 L1609.5,1415.7 L1611.3,1416.1 L1613.1,1416.5 L1614.8,1416.8 L1616.6,1417.1 L1618.4,1417.3 L1620.3,1417.4 L1622.1,1417.5 L1623.9,1417.5 L1625.7,1417.5 L1627.5,1417.5 L1629.3,1417.5 L1631.2,1417.5 L1633.0,1417.5 L1634.8,1417.5 L1636.6,1417.5 L1638.4,1417.3 L1640.2,1417.0 L1642.0,1416.7 L1643.7,1416.2 L1645.5,1415.7 L1647.2,1415.2 L1649.0,1414.6 L1650.7,1414.1 L1652.5,1413.7 L1654.2,1413.2 L1656.0,1412.7 L1657.7,1412.1 L1659.4,1411.5 L1661.1,1410.9 L1662.8,1410.2 L1664.4,1409.4 L1666.1,1408.6 L1667.7,1407.7 L1669.2,1406.8 L1670.7,1405.7 L1672.0,1404.5 L1673.4,1403.3 L1674.6,1401.9 L1675.8,1400.6 L1677.0,1399.2 L1678.1,1397.7 L1679.1,1396.2 L1680.0,1394.6 L1680.9,1393.1 L1681.9,1391.5 L1682.9,1390.0 L1684.0,1388.6 L1685.1,1387.2 L1686.3,1385.8 L1687.6,1384.5 L1689.0,1383.4 L1690.6,1382.4 L1692.2,1381.6 L1693.8,1380.8 L1695.5,1380.1 L1697.2,1379.5 L1698.9,1379.0 L1700.7,1378.6 L1702.5,1378.2 L1704.2,1377.7 L1705.9,1376.9 L1707.3,1375.8 L1708.5,1374.4 L1709.6,1373.0 L1710.6,1371.5 L1711.6,1370.0 L1712.7,1368.5 L1713.6,1366.9 L1714.5,1365.3 L1715.4,1363.8 L1716.5,1362.3 L1717.7,1361.0 L1719.2,1360.0 L1720.9,1359.3 L1722.6,1358.7 L1724.3,1358.1 L1725.9,1357.3 L1727.3,1356.0 L1728.2,1354.5 L1729.0,1352.8 L1729.6,1351.1 L1730.3,1349.4 L1730.9,1347.7 L1731.6,1346.0 L1732.4,1344.4 L1733.1,1342.8 L1733.9,1341.1 L1734.7,1339.5 L1735.5,1337.9 L1736.4,1336.2 L1737.2,1334.6 L1738.0,1333.0 L1738.6,1331.3 L1739.3,1329.6 L1740.2,1328.0 L1741.3,1326.5 L1742.4,1325.1 L1743.8,1323.9 L1745.3,1323.0 L1746.9,1322.1 L1748.4,1321.1 L1749.6,1319.7 L1750.6,1318.2 L1751.5,1316.6 L1752.2,1314.9 L1752.6,1313.2 L1752.9,1311.4 L1753.1,1309.6 L1753.3,1307.8 L1753.4,1306.0 L1753.6,1304.2 L1753.7,1302.3 L1753.8,1300.5 L1754.0,1298.7 L1754.1,1296.9 L1754.3,1295.1 L1754.5,1293.3 L1754.7,1291.5 L1754.9,1289.7 L1755.1,1287.9 L1755.3,1286.1 L1755.6,1284.3 L1755.8,1282.5 L1756.0,1280.7 L1756.3,1278.9 L1756.5,1277.1 L1756.8,1275.3 L1757.0,1273.5 L1757.3,1271.7 L1757.6,1269.9 L1757.9,1268.1 L1758.2,1266.3 L1758.4,1264.5 L1758.6,1262.7 L1758.8,1260.9 L1759.0,1259.1 L1759.4,1257.3 L1760.8,1258.2 L1762.0,1259.6 L1763.1,1261.0 L1764.2,1262.5 L1765.4,1263.8 L1766.6,1265.2 L1767.7,1266.6 L1768.9,1268.0 L1770.3,1269.1 L1772.1,1269.5 L1773.9,1269.2 L1775.6,1268.7 L1776.8,1267.4 L1777.4,1265.7 L1777.8,1263.9 L1778.1,1262.1 L1778.3,1260.3 L1778.5,1258.5 L1778.8,1256.7 L1779.1,1254.9 L1779.4,1253.1 L1779.6,1251.3 L1779.9,1249.5 L1780.1,1247.7 L1780.4,1245.9 L1780.6,1244.1 L1780.8,1242.3 L1781.1,1240.5 L1781.4,1238.7 L1781.7,1237.0 L1782.1,1235.2 L1782.5,1233.4 L1782.9,1231.6 L1783.2,1229.9 L1783.6,1228.1 L1783.8,1226.3 L1783.9,1224.5 L1784.1,1222.6 L1784.3,1220.8 L1785.2,1221.3 L1785.9,1223.0 L1786.6,1224.7 L1787.3,1226.3 L1788.0,1228.0 L1788.7,1229.7 L1789.5,1231.3 L1790.2,1233.0 L1791.1,1234.6 L1792.3,1235.9 L1794.0,1235.6 L1795.5,1234.6 L1796.8,1233.3 L1797.6,1231.6 L1798.2,1229.9 L1798.7,1228.2 L1799.2,1226.4 L1799.5,1224.7 L1799.9,1222.9 L1800.2,1221.1 L1800.6,1219.3 L1801.0,1217.5 L1801.3,1215.8 L1801.7,1214.0 L1802.0,1212.2 L1802.3,1210.4 L1802.6,1208.6 L1802.9,1206.8 L1803.2,1205.0 L1803.5,1203.2 L1803.8,1201.4 L1804.1,1199.7 L1804.4,1197.9 L1804.7,1196.1 L1805.0,1194.3 L1805.3,1192.5 L1805.6,1190.7 L1805.9,1188.9 L1806.2,1187.1 L1806.5,1185.3 L1806.7,1183.5 L1807.0,1181.7 L1807.3,1179.9 L1807.5,1178.1 L1807.8,1176.3 L1808.1,1174.5 L1808.3,1172.7 L1808.6,1170.9 L1808.8,1169.1 L1809.0,1167.3 L1809.3,1165.5 L1809.4,1163.7 L1809.6,1161.9 L1809.8,1160.1 L1810.0,1158.3 L1810.1,1156.5 L1810.3,1154.7 L1810.4,1152.9 L1810.6,1151.1 L1810.7,1149.2 L1810.9,1147.4 L1811.0,1145.6 L1811.2,1143.8 L1811.4,1142.0 L1811.5,1140.2 L1811.7,1138.4 L1811.8,1136.6 L1812.0,1134.8 L1812.2,1133.0 L1812.4,1131.2 L1812.6,1129.4 L1812.8,1127.5 L1813.0,1125.7 L1813.3,1124.0 L1813.6,1122.2 L1814.0,1120.4 L1814.3,1118.6 L1814.7,1116.8 L1815.2,1115.1 L1815.6,1113.3 L1816.1,1111.6 L1816.7,1109.8 L1817.2,1108.1 L1817.9,1106.4 L1818.7,1104.8 L1819.7,1103.2 L1820.7,1101.7 L1821.7,1100.2 L1822.8,1098.8 L1824.0,1097.4 L1825.2,1096.1 L1826.4,1094.7 L1827.4,1093.2 L1828.1,1091.5 L1828.6,1089.8 L1829.0,1088.0 L1829.3,1086.2 L1829.6,1084.4 L1829.8,1082.6 L1830.0,1080.8 L1830.1,1079.0 L1830.3,1077.2 L1830.4,1075.4 L1830.5,1073.6 L1830.6,1071.8 L1830.6,1069.9 L1830.7,1068.1 L1830.8,1066.3 L1830.8,1064.5 L1830.9,1062.7 L1830.9,1060.9 L1831.0,1059.1 L1831.0,1057.2 L1831.1,1055.4 L1831.1,1053.6 L1831.1,1051.8 L1831.2,1050.0 L1831.2,1048.2 L1831.3,1046.3 L1831.3,1044.5 L1831.4,1042.7 L1831.4,1040.9 L1831.5,1039.1 L1831.5,1037.3 L1831.6,1035.4 L1831.6,1033.6 L1831.7,1031.8 L1831.7,1030.0 L1831.7,1028.2 L1831.7,1026.4 L1831.8,1024.6 L1831.8,1022.8 L1831.8,1021.0 L1831.9,1019.2 L1831.9,1017.4 L1831.9,1015.6 L1831.9,1013.8 L1832.0,1012.0 L1832.0,1010.2 L1832.0,1008.4 L1832.0,1006.6 L1832.1,1004.8 L1832.1,1002.9 L1832.1,1001.1 L1832.2,999.3 L1832.2,997.5 L1832.2,995.7 L1832.3,993.9 L1832.3,992.1 L1832.3,990.3 L1832.4,988.5 L1832.4,986.7 L1832.4,984.9 L1832.5,983.1 L1832.5,981.3 L1832.5,979.5 L1832.6,977.7 L1832.6,975.9 L1832.6,974.1 L1832.7,972.3 L1832.7,970.5 L1832.7,968.7 L1832.8,966.9 L1832.8,965.1 L1832.8,963.3 L1832.9,961.5 L1832.9,959.7 L1833.0,957.9 L1833.0,956.1 L1833.0,954.3 L1833.1,952.5 L1833.1,950.7 L1833.1,948.8 L1833.2,947.0 L1833.2,945.2 L1833.2,943.4 L1833.3,941.6 L1833.3,939.8 L1833.4,938.0 L1833.4,936.2 L1833.4,934.4 L1833.5,932.6 L1833.5,930.8 L1833.5,929.0 L1833.6,927.2 L1833.6,925.4 L1833.6,923.6 L1833.7,921.8 L1833.7,920.0 L1833.7,918.2 L1833.8,916.4 L1833.8,914.6 L1833.9,912.8 L1833.9,911.0 L1834.0,909.2 L1834.0,907.4 L1834.1,905.6 L1834.1,903.8 L1834.2,902.0 L1834.2,900.2 L1834.3,898.4 L1834.3,896.6 L1834.4,894.8 L1834.5,893.0 L1834.5,891.2 L1834.6,889.3 L1834.7,887.5 L1834.8,885.7 L1834.8,883.9 L1834.9,882.1 L1835.0,880.3 L1835.1,878.5 L1835.2,876.7 L1835.4,874.9 L1835.5,873.1 L1835.7,871.3 L1835.8,869.6 L1836.0,867.8 L1836.2,866.0 L1836.4,864.2 L1836.6,862.4 L1836.8,860.6 L1837.0,858.8 L1837.2,857.0 L1837.4,855.2 L1837.5,853.4 L1837.7,851.6 L1837.8,849.8 L1837.9,848.0 L1838.0,846.2 L1838.1,844.4 L1838.2,842.6 L1838.3,840.8 L1838.4,839.0 L1838.5,837.2 L1838.6,835.4 L1838.7,833.6 L1838.7,831.8 L1838.8,830.0 L1838.9,828.2 L1839.0,826.4 L1839.1,824.6 L1839.2,822.8 L1839.3,821.0 L1839.4,819.2 L1839.5,817.4 L1839.6,815.6 L1839.7,813.8 L1839.9,812.0 L1840.0,810.2 L1840.1,808.4 L1840.2,806.6 L1840.3,804.8 L1840.4,803.0 L1840.5,801.2 L1840.6,799.4 L1840.7,797.6 L1840.8,795.8 L1840.9,794.0 L1841.0,792.2 L1841.2,790.4 L1841.3,788.6 L1841.4,786.8 L1841.5,785.0 L1841.6,783.2 L1841.7,781.4 L1841.8,779.6 L1841.9,777.8 L1841.9,776.0 L1842.0,774.2 L1842.1,772.4 L1842.1,770.6 L1842.2,768.8 L1842.2,767.0 L1842.3,765.2 L1842.3,763.4 L1842.4,761.6 L1842.4,759.8 L1842.4,757.9 L1842.5,756.1 L1842.5,754.3 L1842.6,752.5 L1842.6,750.7 L1842.6,748.9 L1842.6,747.1 L1842.7,745.3 L1842.7,743.5 L1842.7,741.7 L1842.8,739.9 L1842.8,738.1 L1842.9,736.3 L1843.0,734.5 L1843.1,732.7 L1843.3,730.9 L1843.5,729.1 L1843.7,727.3 L1844.0,725.5 L1844.2,723.8 L1844.4,722.0 L1844.6,720.2 L1844.8,718.4 L1844.9,716.6 L1845.0,714.8 L1845.0,713.0 L1845.1,711.2 L1845.1,709.4 L1845.2,707.6 L1845.2,705.8 L1845.3,704.0 L1845.3,702.2 L1845.4,700.4 L1845.5,698.6 L1845.6,696.8 L1845.7,695.0 L1845.9,693.2 L1846.1,691.4 L1846.3,689.6 L1846.6,687.8 L1846.9,686.0 L1847.2,684.2 L1847.6,682.5 L1847.9,680.7 L1848.3,678.9 L1848.6,677.2 L1849.0,675.4 L1849.5,673.7 L1850.0,671.9 L1850.5,670.2 L1851.2,668.5 L1852.0,666.9 L1853.0,665.4 L1854.2,664.1 L1855.7,663.0 L1857.3,662.3 L1859.1,662.3 L1860.8,663.0 L1862.2,664.1 L1863.3,665.5 L1864.2,667.1 L1865.0,668.7 L1865.6,670.4 L1866.1,672.1 L1866.6,673.9 L1867.0,675.6 L1867.4,677.4 L1867.8,679.2 L1868.1,680.9 L1868.4,682.7 L1868.6,684.5 L1868.9,686.3 L1869.2,688.1 L1869.4,689.9 L1869.6,691.6 L1869.8,693.4 L1870.0,695.2 L1870.2,697.0 L1870.4,698.8 L1870.6,700.6 L1870.8,702.4 L1871.0,704.2 L1871.2,706.0 L1871.4,707.8 L1871.6,709.6 L1871.7,711.4 L1871.9,713.2 L1872.1,715.0 L1872.2,716.8 L1872.3,718.6 L1872.5,720.4 L1872.6,722.2 L1872.7,724.0 L1872.9,725.8 L1873.0,727.6 L1873.1,729.4 L1873.2,731.2 L1873.4,733.0 L1873.5,734.8 L1873.7,736.5 L1873.8,738.3 L1874.0,740.1 L1874.2,741.9 L1874.4,743.7 L1874.5,745.5 L1874.7,747.3 L1874.9,749.1 L1875.1,750.9 L1875.3,752.7 L1875.5,754.5 L1875.6,756.3 L1875.8,758.1 L1875.9,759.9 L1876.1,761.7 L1876.3,763.5 L1876.4,765.3 L1876.6,767.1 L1876.7,768.9 L1876.9,770.7 L1877.0,772.5 L1877.2,774.3 L1877.4,776.1 L1877.5,777.9 L1877.7,779.6 L1877.9,781.4 L1878.0,783.2 L1878.2,785.0 L1878.4,786.8 L1878.5,788.6 L1878.7,790.4 L1878.8,792.2 L1879.0,794.0 L1879.1,795.8 L1879.3,797.6 L1879.4,799.4 L1879.5,801.2 L1879.6,803.0 L1879.8,804.8 L1879.9,806.6 L1880.0,808.4 L1880.1,810.2 L1880.3,812.0 L1880.4,813.8 L1880.5,815.6 L1880.7,817.4 L1880.8,819.2 L1881.0,821.0 L1881.1,822.8 L1881.3,824.6 L1881.5,826.4 L1881.7,828.2 L1881.9,830.0 L1882.1,831.8 L1882.4,833.5 L1882.6,835.3 L1882.9,837.1 L1883.1,838.9 L1883.4,840.7 L1883.6,842.5 L1883.9,844.3 L1884.1,846.1 L1884.3,847.8 L1884.5,849.6 L1884.6,851.4 L1884.8,853.2 L1884.9,855.0 L1885.1,856.8 L1885.2,858.6 L1885.3,860.4 L1885.4,862.2 L1885.6,864.0 L1885.7,865.8 L1885.8,867.6 L1885.9,869.4 L1886.0,871.2 L1886.1,873.0 L1886.2,874.8 L1886.3,876.6 L1886.5,878.4 L1886.6,880.2 L1886.7,882.0 L1886.8,883.8 L1886.9,885.6 L1887.0,887.4 L1887.2,889.2 L1887.3,891.0 L1887.4,892.8 L1887.6,894.6 L1887.7,896.4 L1887.8,898.2 L1888.0,900.0 L1888.1,901.8 L1888.2,903.6 L1888.4,905.4 L1888.5,907.2 L1888.6,909.0 L1888.8,910.8 L1888.9,912.6 L1889.1,914.4 L1889.2,916.2 L1889.3,918.0 L1889.5,919.8 L1889.6,921.6 L1889.7,923.4 L1889.9,925.2 L1890.0,927.0 L1890.2,928.8 L1890.3,930.6 L1890.4,932.4 L1890.6,934.2 L1890.7,936.0 L1890.8,937.8 L1891.0,939.6 L1891.1,941.4 L1891.3,943.2 L1891.4,945.0 L1891.5,946.8 L1891.7,948.6 L1891.8,950.4 L1892.0,952.2 L1892.1,954.0 L1892.2,955.8 L1892.4,957.6 L1892.5,959.4 L1892.6,961.2 L1892.8,963.0 L1892.9,964.8 L1893.0,966.6 L1893.1,968.4 L1893.3,970.2 L1893.4,972.0 L1893.5,973.8 L1893.6,975.6 L1893.7,977.4 L1893.9,979.2 L1894.0,981.0 L1894.1,982.8 L1894.2,984.6 L1894.3,986.4 L1894.5,988.2 L1894.6,990.0 L1894.7,991.8 L1894.8,993.6 L1894.9,995.4 L1895.1,997.2 L1895.2,999.0 L1895.3,1000.8 L1895.5,1002.6 L1895.6,1004.4 L1895.7,1006.1 L1895.9,1007.9 L1896.0,1009.7 L1896.2,1011.5 L1896.3,1013.3 L1896.5,1015.1 L1896.6,1016.9 L1896.8,1018.7 L1897.0,1020.5 L1897.1,1022.3 L1897.3,1024.1 L1897.4,1025.9 L1897.6,1027.7 L1897.8,1029.5 L1897.9,1031.3 L1898.1,1033.1 L1898.3,1034.9 L1898.4,1036.7 L1898.6,1038.5 L1898.8,1040.3 L1899.0,1042.1 L1899.1,1043.9 L1899.3,1045.7 L1899.5,1047.5 L1899.7,1049.3 L1899.9,1051.0 L1900.1,1052.8 L1900.2,1054.6 L1900.4,1056.4 L1900.6,1058.2 L1900.8,1060.0 L1901.0,1061.8 L1901.1,1063.6 L1901.3,1065.4 L1901.5,1067.2 L1901.7,1069.0 L1901.8,1070.8 L1902.0,1072.6 L1902.2,1074.4 L1902.3,1076.2 L1902.5,1078.0 L1902.7,1079.8 L1902.8,1081.6 L1903.0,1083.4 L1903.1,1085.2 L1903.3,1087.0 L1903.5,1088.8 L1903.6,1090.5 L1903.8,1092.3 L1904.0,1094.1 L1904.1,1095.9 L1904.3,1097.7 L1904.5,1099.5 L1904.7,1101.3 L1904.8,1103.1 L1905.0,1104.9 L1905.2,1106.7 L1905.4,1108.5 L1905.6,1110.3 L1905.8,1112.1 L1906.0,1113.9 L1906.2,1115.7 L1906.4,1117.5 L1906.6,1119.3 L1906.8,1121.0 L1907.0,1122.8 L1907.2,1124.6 L1907.4,1126.4 L1907.7,1128.2 L1907.9,1130.0 L1908.1,1131.8 L1908.3,1133.6 L1908.5,1135.4 L1908.8,1137.2 L1909.0,1138.9 L1909.2,1140.7 L1909.5,1142.5 L1909.7,1144.3 L1909.9,1146.1 L1910.2,1147.9 L1910.4,1149.7 L1910.7,1151.5 L1910.9,1153.3 L1911.2,1155.0 L1911.4,1156.8 L1911.6,1158.6 L1911.9,1160.4 L1912.2,1162.2 L1912.4,1164.0 L1912.7,1165.8 L1912.9,1167.5 L1913.2,1169.3 L1913.5,1171.1 L1913.8,1172.9 L1914.1,1174.7 L1914.4,1176.4 L1914.7,1178.2 L1915.0,1180.0 L1915.3,1181.8 L1915.6,1183.5 L1916.0,1185.3 L1916.3,1187.1 L1916.7,1188.8 L1917.1,1190.6 L1917.5,1192.4 L1917.9,1194.1 L1918.4,1195.9 L1918.8,1197.6 L1919.2,1199.4 L1919.6,1201.1 L1920.1,1202.9 L1920.5,1204.6 L1920.9,1206.4 L1921.3,1208.2 L1921.6,1209.9 L1922.0,1211.7 L1922.4,1213.5 L1922.7,1215.2 L1923.1,1217.0 L1923.4,1218.8 L1923.7,1220.5 L1924.1,1222.3 L1924.4,1224.1 L1924.7,1225.9 L1925.1,1227.6 L1925.4,1229.4 L1925.8,1231.2 L1926.1,1232.9 L1926.5,1234.7 L1926.8,1236.5 L1927.2,1238.2 L1927.6,1240.0 L1928.0,1241.8 L1928.3,1243.5 L1928.7,1245.3 L1929.1,1247.0 L1929.5,1248.8 L1929.9,1250.6 L1930.3,1252.3 L1930.7,1254.1 L1931.1,1255.8 L1931.5,1257.6 L1932.0,1259.3 L1932.4,1261.1 L1932.8,1262.8 L1933.3,1264.6 L1933.8,1266.3 L1934.2,1268.1 L1934.7,1269.8 L1935.2,1271.5 L1935.7,1273.3 L1936.2,1275.0 L1936.8,1276.7 L1937.3,1278.5 L1937.8,1280.2 L1938.4,1281.9 L1939.0,1283.6 L1939.6,1285.3 L1940.1,1287.0 L1940.7,1288.7 L1941.4,1290.4 L1942.0,1292.1 L1942.6,1293.8 L1943.3,1295.5 L1944.0,1297.1 L1944.6,1298.8 L1945.3,1300.5 L1946.1,1302.1 L1946.8,1303.8 L1947.5,1305.4 L1948.3,1307.0 L1949.1,1308.7 L1949.9,1310.3 L1950.7,1311.9 L1951.5,1313.5 L1952.4,1315.1 L1953.3,1316.7 L1954.1,1318.2 L1955.0,1319.8 L1955.9,1321.4 L1956.9,1322.9 L1957.8,1324.4 L1958.8,1326.0 L1959.8,1327.5 L1960.8,1329.0 L1961.8,1330.4 L1962.9,1331.9 L1964.0,1333.3 L1965.0,1334.8 L1966.1,1336.2 L1967.2,1337.6 L1968.4,1339.1 L1969.5,1340.5 L1970.6,1341.9 L1971.7,1343.3 L1972.9,1344.7 L1974.0,1346.1 L1975.2,1347.5 L1976.3,1348.9 L1977.5,1350.3 L1978.6,1351.6 L1979.8,1353.0 L1981.0,1354.3 L1982.2,1355.7 L1983.5,1357.0 L1984.7,1358.3 L1985.9,1359.6 L1987.2,1360.9 L1988.5,1362.2 L1989.8,1363.4 L1991.1,1364.7 L1992.4,1365.9 L1993.7,1367.1 L1995.0,1368.4 L1996.4,1369.6 L1997.8,1370.7 L1999.2,1371.9 L2000.6,1373.0 L2002.0,1374.1 L2003.4,1375.2 L2004.9,1376.2 L2006.4,1377.3 L2007.9,1378.3 L2009.4,1379.2 L2010.9,1380.2 L2012.5,1381.1 L2014.0,1382.0 L2015.6,1382.9 L2017.2,1383.8 L2018.7,1384.7 L2020.3,1385.6 L2021.9,1386.4 L2023.5,1387.3 L2025.1,1388.2 L2026.6,1389.1 L2028.2,1390.0 L2029.7,1390.9 L2031.3,1391.8 L2032.9,1392.7 L2034.5,1393.6 L2036.1,1394.4 L2037.7,1395.1 L2039.4,1395.8 L2041.1,1396.4 L2042.8,1397.0 L2044.5,1397.4 L2046.3,1397.8 L2048.1,1398.1 L2049.8,1398.5 L2051.6,1398.8 L2053.4,1399.1 L2055.2,1399.3 L2057.0,1399.6 L2058.8,1399.8 L2060.5,1400.1 L2062.3,1400.3 L2064.1,1400.6 L2065.9,1400.8 L2067.7,1401.1 L2069.5,1401.3 L2071.3,1401.6 L2073.0,1401.8 L2074.8,1402.1 L2076.6,1402.3 L2078.4,1402.6 L2080.2,1402.8 L2082.0,1403.0 L2083.8,1403.2 L2085.6,1403.5 L2087.3,1403.7 L2089.1,1403.9 L2090.9,1404.2 L2092.7,1404.4 L2094.5,1404.6 L2096.3,1404.9 L2098.1,1405.1 L2099.9,1405.3 L2101.7,1405.6 L2103.4,1405.8 L2105.2,1406.0 L2107.0,1406.2 L2108.8,1406.5 L2110.6,1406.7 L2112.4,1406.9 L2114.2,1407.2 L2116.0,1407.4 L2117.8,1407.7 L2119.5,1407.9 L2121.3,1408.1 L2123.1,1408.4 L2124.9,1408.7 L2126.7,1408.9 L2128.5,1409.2 L2130.2,1409.5 L2132.0,1409.8 L2133.8,1410.1 L2135.6,1410.4 L2137.3,1410.8 L2139.1,1411.1 L2140.9,1411.4 L2142.7,1411.7 L2144.4,1412.0 L2146.2,1412.3 L2148.0,1412.6 L2149.8,1412.9 L2151.6,1413.2 L2153.4,1413.4 L2155.1,1413.7 L2156.9,1413.9 L2158.7,1414.1 L2160.5,1414.3 L2162.3,1414.5 L2164.1,1414.7 L2165.9,1415.0 L2167.7,1415.1 L2169.5,1415.3 L2171.3,1415.5 L2173.1,1415.7 L2174.9,1415.9 L2176.7,1416.0 L2178.5,1416.2 L2180.3,1416.3 L2182.1,1416.5 L2183.9,1416.6 L2185.7,1416.7 L2187.5,1416.8 L2189.3,1416.9 L2191.1,1417.0 L2192.9,1417.1 L2194.7,1417.2 L2196.5,1417.3 L2198.3,1417.4 L2200.1,1417.5 L2201.9,1417.6 L2203.7,1417.7 L2205.5,1417.8 L2207.3,1417.8 L2209.1,1417.9 L2210.9,1418.0 L2212.7,1418.1 L2214.5,1418.1 L2216.3,1418.2 L2218.1,1418.3 L2219.9,1418.4 L2221.7,1418.4 L2223.5,1418.5 L2225.3,1418.6 L2227.1,1418.7 L2228.9,1418.7 L2230.7,1418.8 L2232.5,1418.9 L2234.3,1419.0 L2236.1,1419.0 L2237.9,1419.1 L2239.7,1419.2 L2241.5,1419.3 L2243.3,1419.3 L2245.1,1419.4 L2246.9,1419.5 L2248.7,1419.6 L2250.5,1419.6 L2252.3,1419.7 L2254.1,1419.8 L2255.9,1419.9 L2257.7,1419.9 L2259.5,1420.0 L2261.3,1420.1 L2263.1,1420.1 L2264.9,1420.2 L2266.7,1420.3 L2268.5,1420.3 L2270.3,1420.4 L2272.1,1420.5 L2273.9,1420.5 L2275.7,1420.6 L2277.5,1420.7 L2279.4,1420.7 L2281.2,1420.8 L2283.0,1420.9 L2284.8,1420.9 L2286.6,1421.0 L2288.4,1421.0 L2290.2,1421.1 L2292.0,1421.1 L2293.8,1421.2 L2295.6,1421.2 L2297.4,1421.3 L2299.2,1421.3 L2301.0,1421.4 L2302.8,1421.4 L2304.6,1421.5 L2306.4,1421.5 L2308.2,1421.6 L2310.0,1421.6" stroke="#000" stroke-width="8.6"/>
</g>
<g class="ax" stroke-width="8.8">
<path d="M1485.0,65.6 V1428.2"/>
<path d="M2305.2,65.6 V1428.2"/>
<path d="M1480.6,70.0 H2309.6"/>
<path d="M1480.6,1423.8 H2309.6"/>
<path d="M1457.0,1423.8 H1485.0"/>
<path d="M1468.2,1254.6 H1485.0"/>
<path d="M1457.0,1085.3 H1485.0"/>
<path d="M1468.2,916.1 H1485.0"/>
<path d="M1457.0,746.9 H1485.0"/>
<path d="M1468.2,577.7 H1485.0"/>
<path d="M1457.0,408.5 H1485.0"/>
<path d="M1468.2,239.2 H1485.0"/>
<path d="M1457.0,70.0 H1485.0"/>
<path d="M1485.0,1423.8 V1452.6"/>
<path d="M1587.5,1423.8 V1440.5"/>
<path d="M1690.0,1423.8 V1452.6"/>
<path d="M1792.6,1423.8 V1440.5"/>
<path d="M1895.1,1423.8 V1452.6"/>
<path d="M1997.6,1423.8 V1440.5"/>
<path d="M2100.1,1423.8 V1452.6"/>
<path d="M2202.7,1423.8 V1440.5"/>
<path d="M2305.2,1423.8 V1452.6"/>
</g>
<text transform="translate(1442.5,1436.3) scale(0.955,1)" font-size="76.5" text-anchor="end">0.0</text>
<text transform="translate(1444.0,1113.3) scale(0.955,1)" font-size="76.5" text-anchor="end">5.0x10<tspan class="sup" font-size="45" dy="-42" dx="0">6</tspan></text>
<text transform="translate(1444.0,774.9) scale(0.955,1)" font-size="76.5" text-anchor="end">1.0x10<tspan class="sup" font-size="45" dy="-42" dx="0">7</tspan></text>
<text transform="translate(1444.0,436.5) scale(0.955,1)" font-size="76.5" text-anchor="end">1.5x10<tspan class="sup" font-size="45" dy="-42" dx="0">7</tspan></text>
<text transform="translate(1444.0,98.0) scale(0.955,1)" font-size="76.5" text-anchor="end">2.0x10<tspan class="sup" font-size="45" dy="-42" dx="0">7</tspan></text>
<text transform="translate(1485.0,1522.5) scale(0.955,1)" font-size="76.5" text-anchor="middle">400</text>
<text transform="translate(1690.0,1522.5) scale(0.955,1)" font-size="76.5" text-anchor="middle">450</text>
<text transform="translate(1895.1,1522.5) scale(0.955,1)" font-size="76.5" text-anchor="middle">500</text>
<text transform="translate(2100.1,1522.5) scale(0.955,1)" font-size="76.5" text-anchor="middle">550</text>
<text transform="translate(2305.2,1522.5) scale(0.955,1)" font-size="76.5" text-anchor="middle">600</text>
<text transform="translate(1895.7,1613.3) scale(1.0125,1)" font-size="72" text-anchor="middle">wavelength / nm</text>
<text transform="translate(1155.5,739.6) rotate(-90) scale(1.005,1)" font-size="75" text-anchor="middle">Intensity / c.p.s.</text>
<text transform="translate(1592.5,161.0) scale(0.95,1)" font-size="69.5" text-anchor="middle">b</text>
</g>
</svg></body></html>
